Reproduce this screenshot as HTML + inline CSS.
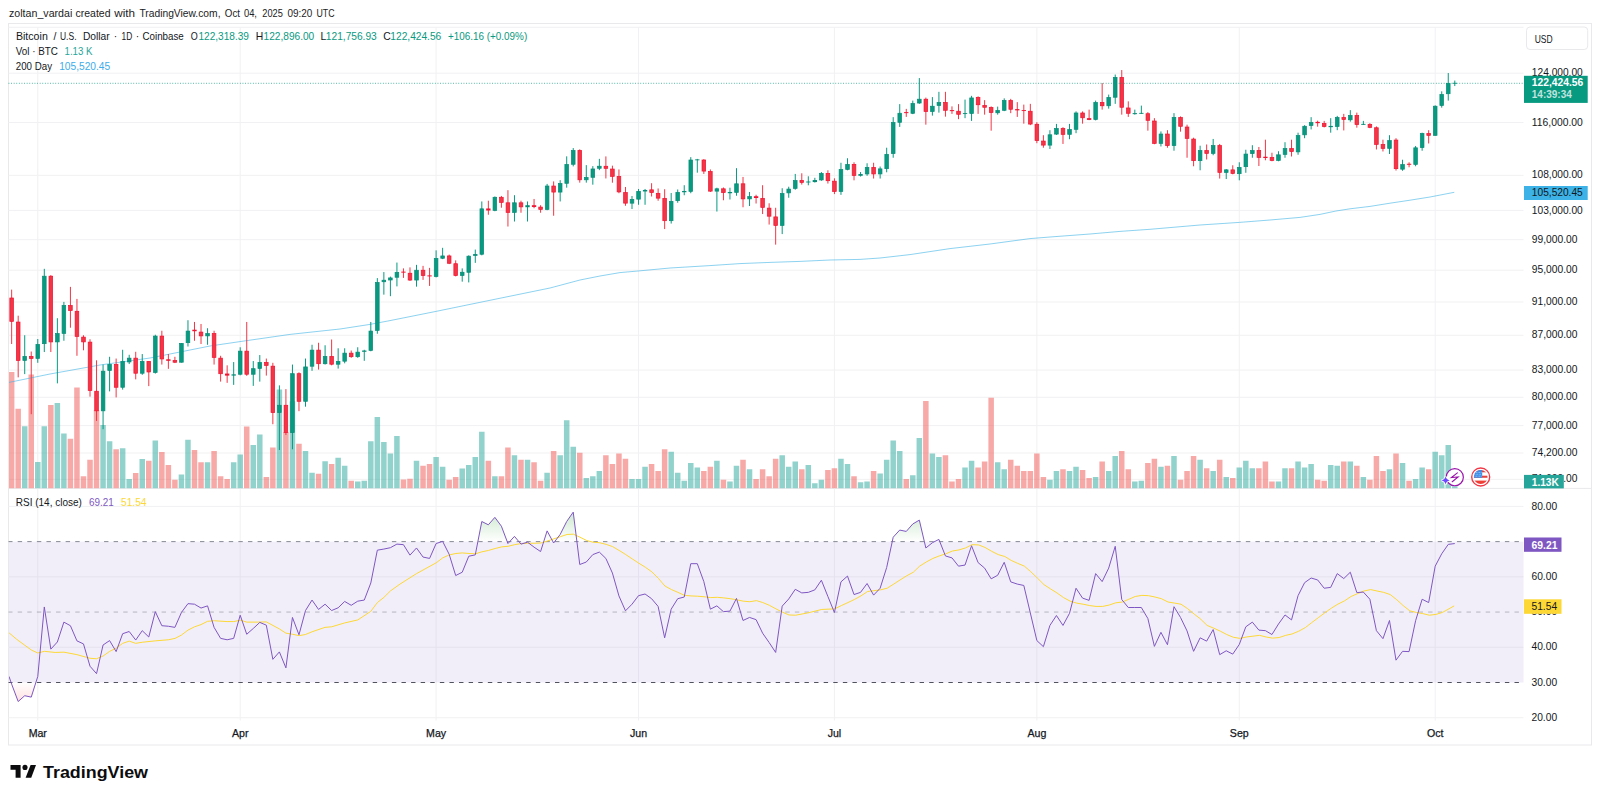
<!DOCTYPE html>
<html><head><meta charset="utf-8"><title>BTCUSD chart</title><style>html,body{margin:0;padding:0;background:#fff}svg{display:block}</style></head><body>
<svg width="1600" height="798" viewBox="0 0 1600 798" font-family="'Liberation Sans', Arial, sans-serif" font-size="10.4">
<rect width="1600" height="798" fill="#fff"/>
<rect x="8.5" y="23.5" width="1583.0" height="721.5" fill="none" stroke="#e9e9ec" stroke-width="1"/>
<line x1="8.5" y1="27.3" x2="1523.5" y2="27.3" stroke="#f1f1f3"/>
<line x1="8.5" y1="488.4" x2="1591.5" y2="488.4" stroke="#e9e9ec"/>
<line x1="37.77" y1="27.3" x2="37.77" y2="720.5" stroke="#f1f1f3"/>
<line x1="240.2" y1="27.3" x2="240.2" y2="720.5" stroke="#f1f1f3"/>
<line x1="436.1" y1="27.3" x2="436.1" y2="720.5" stroke="#f1f1f3"/>
<line x1="638.53" y1="27.3" x2="638.53" y2="720.5" stroke="#f1f1f3"/>
<line x1="834.43" y1="27.3" x2="834.43" y2="720.5" stroke="#f1f1f3"/>
<line x1="1036.86" y1="27.3" x2="1036.86" y2="720.5" stroke="#f1f1f3"/>
<line x1="1239.29" y1="27.3" x2="1239.29" y2="720.5" stroke="#f1f1f3"/>
<line x1="1435.19" y1="27.3" x2="1435.19" y2="720.5" stroke="#f1f1f3"/>
<line x1="8.5" y1="73.18" x2="1523.5" y2="73.18" stroke="#f1f1f3"/>
<line x1="8.5" y1="122.5" x2="1523.5" y2="122.5" stroke="#f1f1f3"/>
<line x1="8.5" y1="175.35" x2="1523.5" y2="175.35" stroke="#f1f1f3"/>
<line x1="8.5" y1="210.41" x2="1523.5" y2="210.41" stroke="#f1f1f3"/>
<line x1="8.5" y1="239.7" x2="1523.5" y2="239.7" stroke="#f1f1f3"/>
<line x1="8.5" y1="270.21" x2="1523.5" y2="270.21" stroke="#f1f1f3"/>
<line x1="8.5" y1="302.02" x2="1523.5" y2="302.02" stroke="#f1f1f3"/>
<line x1="8.5" y1="335.27" x2="1523.5" y2="335.27" stroke="#f1f1f3"/>
<line x1="8.5" y1="370.08" x2="1523.5" y2="370.08" stroke="#f1f1f3"/>
<line x1="8.5" y1="397.31" x2="1523.5" y2="397.31" stroke="#f1f1f3"/>
<line x1="8.5" y1="425.58" x2="1523.5" y2="425.58" stroke="#f1f1f3"/>
<line x1="8.5" y1="452.97" x2="1523.5" y2="452.97" stroke="#f1f1f3"/>
<line x1="8.5" y1="479.35" x2="1523.5" y2="479.35" stroke="#f1f1f3"/>
<line x1="8.5" y1="506.4" x2="1523.5" y2="506.4" stroke="#f1f1f3"/>
<line x1="8.5" y1="576.84" x2="1523.5" y2="576.84" stroke="#f1f1f3"/>
<line x1="8.5" y1="647.28" x2="1523.5" y2="647.28" stroke="#f1f1f3"/>
<line x1="8.5" y1="717.72" x2="1523.5" y2="717.72" stroke="#f1f1f3"/>
<clipPath id="cp"><rect x="9.0" y="27.3" width="1514.5" height="461.09999999999997"/></clipPath>
<clipPath id="cr"><rect x="9.0" y="488.4" width="1514.5" height="231.60000000000002"/></clipPath>
<g clip-path="url(#cp)">
<rect x="8.9" y="372" width="5.5" height="116.4" fill="#ef5350" fill-opacity="0.5"/>
<rect x="15.43" y="408.75" width="5.5" height="79.65" fill="#ef5350" fill-opacity="0.5"/>
<rect x="21.96" y="426.25" width="5.5" height="62.15" fill="#26a69a" fill-opacity="0.5"/>
<rect x="28.49" y="374.5" width="5.5" height="113.9" fill="#ef5350" fill-opacity="0.5"/>
<rect x="35.02" y="462" width="5.5" height="26.4" fill="#26a69a" fill-opacity="0.5"/>
<rect x="41.55" y="426.25" width="5.5" height="62.15" fill="#26a69a" fill-opacity="0.5"/>
<rect x="48.08" y="405" width="5.5" height="83.4" fill="#ef5350" fill-opacity="0.5"/>
<rect x="54.61" y="403" width="5.5" height="85.4" fill="#26a69a" fill-opacity="0.5"/>
<rect x="61.14" y="433.5" width="5.5" height="54.9" fill="#26a69a" fill-opacity="0.5"/>
<rect x="67.67" y="438.75" width="5.5" height="49.65" fill="#ef5350" fill-opacity="0.5"/>
<rect x="74.2" y="387.5" width="5.5" height="100.9" fill="#ef5350" fill-opacity="0.5"/>
<rect x="80.73" y="476.25" width="5.5" height="12.15" fill="#ef5350" fill-opacity="0.5"/>
<rect x="87.26" y="459.75" width="5.5" height="28.65" fill="#ef5350" fill-opacity="0.5"/>
<rect x="93.79" y="410" width="5.5" height="78.4" fill="#ef5350" fill-opacity="0.5"/>
<rect x="100.32" y="425" width="5.5" height="63.4" fill="#26a69a" fill-opacity="0.5"/>
<rect x="106.85" y="441.25" width="5.5" height="47.15" fill="#26a69a" fill-opacity="0.5"/>
<rect x="113.38" y="449.25" width="5.5" height="39.15" fill="#ef5350" fill-opacity="0.5"/>
<rect x="119.91" y="448.25" width="5.5" height="40.15" fill="#26a69a" fill-opacity="0.5"/>
<rect x="126.44" y="479" width="5.5" height="9.4" fill="#26a69a" fill-opacity="0.5"/>
<rect x="132.97" y="473" width="5.5" height="15.4" fill="#ef5350" fill-opacity="0.5"/>
<rect x="139.5" y="459" width="5.5" height="29.4" fill="#26a69a" fill-opacity="0.5"/>
<rect x="146.03" y="460.75" width="5.5" height="27.65" fill="#ef5350" fill-opacity="0.5"/>
<rect x="152.56" y="440.5" width="5.5" height="47.9" fill="#26a69a" fill-opacity="0.5"/>
<rect x="159.09" y="452" width="5.5" height="36.4" fill="#ef5350" fill-opacity="0.5"/>
<rect x="165.62" y="465" width="5.5" height="23.4" fill="#ef5350" fill-opacity="0.5"/>
<rect x="172.15" y="479.75" width="5.5" height="8.65" fill="#ef5350" fill-opacity="0.5"/>
<rect x="178.68" y="474.5" width="5.5" height="13.9" fill="#26a69a" fill-opacity="0.5"/>
<rect x="185.21" y="439.75" width="5.5" height="48.65" fill="#26a69a" fill-opacity="0.5"/>
<rect x="191.74" y="450" width="5.5" height="38.4" fill="#ef5350" fill-opacity="0.5"/>
<rect x="198.27" y="462.25" width="5.5" height="26.15" fill="#ef5350" fill-opacity="0.5"/>
<rect x="204.8" y="462.25" width="5.5" height="26.15" fill="#26a69a" fill-opacity="0.5"/>
<rect x="211.33" y="451" width="5.5" height="37.4" fill="#ef5350" fill-opacity="0.5"/>
<rect x="217.86" y="476.25" width="5.5" height="12.15" fill="#ef5350" fill-opacity="0.5"/>
<rect x="224.39" y="479" width="5.5" height="9.4" fill="#ef5350" fill-opacity="0.5"/>
<rect x="230.92" y="462.25" width="5.5" height="26.15" fill="#26a69a" fill-opacity="0.5"/>
<rect x="237.45" y="454.5" width="5.5" height="33.9" fill="#26a69a" fill-opacity="0.5"/>
<rect x="243.98" y="426.5" width="5.5" height="61.9" fill="#ef5350" fill-opacity="0.5"/>
<rect x="250.51" y="445" width="5.5" height="43.4" fill="#26a69a" fill-opacity="0.5"/>
<rect x="257.04" y="434.5" width="5.5" height="53.9" fill="#26a69a" fill-opacity="0.5"/>
<rect x="263.57" y="477" width="5.5" height="11.4" fill="#ef5350" fill-opacity="0.5"/>
<rect x="270.1" y="447.5" width="5.5" height="40.9" fill="#ef5350" fill-opacity="0.5"/>
<rect x="276.63" y="389.5" width="5.5" height="98.9" fill="#26a69a" fill-opacity="0.5"/>
<rect x="283.16" y="432" width="5.5" height="56.4" fill="#ef5350" fill-opacity="0.5"/>
<rect x="289.69" y="401.25" width="5.5" height="87.15" fill="#26a69a" fill-opacity="0.5"/>
<rect x="296.22" y="443.75" width="5.5" height="44.65" fill="#ef5350" fill-opacity="0.5"/>
<rect x="302.75" y="451" width="5.5" height="37.4" fill="#26a69a" fill-opacity="0.5"/>
<rect x="309.28" y="472.75" width="5.5" height="15.65" fill="#26a69a" fill-opacity="0.5"/>
<rect x="315.81" y="473.75" width="5.5" height="14.65" fill="#ef5350" fill-opacity="0.5"/>
<rect x="322.34" y="461.25" width="5.5" height="27.15" fill="#26a69a" fill-opacity="0.5"/>
<rect x="328.87" y="464" width="5.5" height="24.4" fill="#ef5350" fill-opacity="0.5"/>
<rect x="335.4" y="457.75" width="5.5" height="30.65" fill="#26a69a" fill-opacity="0.5"/>
<rect x="341.93" y="465.75" width="5.5" height="22.65" fill="#26a69a" fill-opacity="0.5"/>
<rect x="348.46" y="480.75" width="5.5" height="7.65" fill="#ef5350" fill-opacity="0.5"/>
<rect x="354.99" y="481.5" width="5.5" height="6.9" fill="#26a69a" fill-opacity="0.5"/>
<rect x="361.52" y="480.75" width="5.5" height="7.65" fill="#26a69a" fill-opacity="0.5"/>
<rect x="368.05" y="441.25" width="5.5" height="47.15" fill="#26a69a" fill-opacity="0.5"/>
<rect x="374.58" y="417" width="5.5" height="71.4" fill="#26a69a" fill-opacity="0.5"/>
<rect x="381.11" y="442" width="5.5" height="46.4" fill="#26a69a" fill-opacity="0.5"/>
<rect x="387.64" y="453.5" width="5.5" height="34.9" fill="#26a69a" fill-opacity="0.5"/>
<rect x="394.17" y="436" width="5.5" height="52.4" fill="#26a69a" fill-opacity="0.5"/>
<rect x="400.7" y="479.5" width="5.5" height="8.9" fill="#ef5350" fill-opacity="0.5"/>
<rect x="407.23" y="478.75" width="5.5" height="9.65" fill="#ef5350" fill-opacity="0.5"/>
<rect x="413.76" y="460.75" width="5.5" height="27.65" fill="#26a69a" fill-opacity="0.5"/>
<rect x="420.29" y="465.75" width="5.5" height="22.65" fill="#ef5350" fill-opacity="0.5"/>
<rect x="426.82" y="464" width="5.5" height="24.4" fill="#ef5350" fill-opacity="0.5"/>
<rect x="433.35" y="457" width="5.5" height="31.4" fill="#26a69a" fill-opacity="0.5"/>
<rect x="439.88" y="466.75" width="5.5" height="21.65" fill="#26a69a" fill-opacity="0.5"/>
<rect x="446.41" y="479.75" width="5.5" height="8.65" fill="#ef5350" fill-opacity="0.5"/>
<rect x="452.94" y="477" width="5.5" height="11.4" fill="#ef5350" fill-opacity="0.5"/>
<rect x="459.47" y="468.5" width="5.5" height="19.9" fill="#26a69a" fill-opacity="0.5"/>
<rect x="466" y="465" width="5.5" height="23.4" fill="#26a69a" fill-opacity="0.5"/>
<rect x="472.53" y="457" width="5.5" height="31.4" fill="#26a69a" fill-opacity="0.5"/>
<rect x="479.06" y="431.75" width="5.5" height="56.65" fill="#26a69a" fill-opacity="0.5"/>
<rect x="485.59" y="460.75" width="5.5" height="27.65" fill="#ef5350" fill-opacity="0.5"/>
<rect x="492.12" y="476.25" width="5.5" height="12.15" fill="#26a69a" fill-opacity="0.5"/>
<rect x="498.65" y="476.25" width="5.5" height="12.15" fill="#ef5350" fill-opacity="0.5"/>
<rect x="505.18" y="447.5" width="5.5" height="40.9" fill="#ef5350" fill-opacity="0.5"/>
<rect x="511.71" y="455.25" width="5.5" height="33.15" fill="#26a69a" fill-opacity="0.5"/>
<rect x="518.24" y="459.75" width="5.5" height="28.65" fill="#ef5350" fill-opacity="0.5"/>
<rect x="524.77" y="459.75" width="5.5" height="28.65" fill="#26a69a" fill-opacity="0.5"/>
<rect x="531.3" y="462.25" width="5.5" height="26.15" fill="#ef5350" fill-opacity="0.5"/>
<rect x="537.83" y="480.75" width="5.5" height="7.65" fill="#ef5350" fill-opacity="0.5"/>
<rect x="544.36" y="472.75" width="5.5" height="15.65" fill="#26a69a" fill-opacity="0.5"/>
<rect x="550.89" y="451" width="5.5" height="37.4" fill="#ef5350" fill-opacity="0.5"/>
<rect x="557.42" y="455.25" width="5.5" height="33.15" fill="#26a69a" fill-opacity="0.5"/>
<rect x="563.95" y="420.25" width="5.5" height="68.15" fill="#26a69a" fill-opacity="0.5"/>
<rect x="570.48" y="446.75" width="5.5" height="41.65" fill="#26a69a" fill-opacity="0.5"/>
<rect x="577.01" y="452.75" width="5.5" height="35.65" fill="#ef5350" fill-opacity="0.5"/>
<rect x="583.54" y="478" width="5.5" height="10.4" fill="#26a69a" fill-opacity="0.5"/>
<rect x="590.07" y="476.25" width="5.5" height="12.15" fill="#26a69a" fill-opacity="0.5"/>
<rect x="596.6" y="471" width="5.5" height="17.4" fill="#26a69a" fill-opacity="0.5"/>
<rect x="603.13" y="455.25" width="5.5" height="33.15" fill="#ef5350" fill-opacity="0.5"/>
<rect x="609.66" y="464" width="5.5" height="24.4" fill="#ef5350" fill-opacity="0.5"/>
<rect x="616.19" y="453.5" width="5.5" height="34.9" fill="#ef5350" fill-opacity="0.5"/>
<rect x="622.72" y="458.75" width="5.5" height="29.65" fill="#ef5350" fill-opacity="0.5"/>
<rect x="629.25" y="479" width="5.5" height="9.4" fill="#26a69a" fill-opacity="0.5"/>
<rect x="635.78" y="479" width="5.5" height="9.4" fill="#26a69a" fill-opacity="0.5"/>
<rect x="642.31" y="466.75" width="5.5" height="21.65" fill="#26a69a" fill-opacity="0.5"/>
<rect x="648.84" y="464" width="5.5" height="24.4" fill="#ef5350" fill-opacity="0.5"/>
<rect x="655.37" y="471" width="5.5" height="17.4" fill="#ef5350" fill-opacity="0.5"/>
<rect x="661.9" y="449.25" width="5.5" height="39.15" fill="#ef5350" fill-opacity="0.5"/>
<rect x="668.43" y="451.75" width="5.5" height="36.65" fill="#26a69a" fill-opacity="0.5"/>
<rect x="674.96" y="472.75" width="5.5" height="15.65" fill="#26a69a" fill-opacity="0.5"/>
<rect x="681.49" y="480.75" width="5.5" height="7.65" fill="#26a69a" fill-opacity="0.5"/>
<rect x="688.02" y="463" width="5.5" height="25.4" fill="#26a69a" fill-opacity="0.5"/>
<rect x="694.55" y="467.5" width="5.5" height="20.9" fill="#26a69a" fill-opacity="0.5"/>
<rect x="701.08" y="471" width="5.5" height="17.4" fill="#ef5350" fill-opacity="0.5"/>
<rect x="707.61" y="466.75" width="5.5" height="21.65" fill="#ef5350" fill-opacity="0.5"/>
<rect x="714.14" y="460.75" width="5.5" height="27.65" fill="#26a69a" fill-opacity="0.5"/>
<rect x="720.67" y="479.75" width="5.5" height="8.65" fill="#ef5350" fill-opacity="0.5"/>
<rect x="727.2" y="481.5" width="5.5" height="6.9" fill="#26a69a" fill-opacity="0.5"/>
<rect x="733.73" y="465.75" width="5.5" height="22.65" fill="#26a69a" fill-opacity="0.5"/>
<rect x="740.26" y="459.75" width="5.5" height="28.65" fill="#ef5350" fill-opacity="0.5"/>
<rect x="746.79" y="469.25" width="5.5" height="19.15" fill="#26a69a" fill-opacity="0.5"/>
<rect x="753.32" y="479" width="5.5" height="9.4" fill="#ef5350" fill-opacity="0.5"/>
<rect x="759.85" y="469.25" width="5.5" height="19.15" fill="#ef5350" fill-opacity="0.5"/>
<rect x="766.38" y="476.25" width="5.5" height="12.15" fill="#ef5350" fill-opacity="0.5"/>
<rect x="772.91" y="458.75" width="5.5" height="29.65" fill="#ef5350" fill-opacity="0.5"/>
<rect x="779.44" y="455.25" width="5.5" height="33.15" fill="#26a69a" fill-opacity="0.5"/>
<rect x="785.97" y="466.75" width="5.5" height="21.65" fill="#26a69a" fill-opacity="0.5"/>
<rect x="792.5" y="461.5" width="5.5" height="26.9" fill="#26a69a" fill-opacity="0.5"/>
<rect x="799.03" y="469.25" width="5.5" height="19.15" fill="#ef5350" fill-opacity="0.5"/>
<rect x="805.56" y="465" width="5.5" height="23.4" fill="#26a69a" fill-opacity="0.5"/>
<rect x="812.09" y="483.25" width="5.5" height="5.15" fill="#26a69a" fill-opacity="0.5"/>
<rect x="818.62" y="479.75" width="5.5" height="8.65" fill="#26a69a" fill-opacity="0.5"/>
<rect x="825.15" y="470" width="5.5" height="18.4" fill="#ef5350" fill-opacity="0.5"/>
<rect x="831.68" y="468.25" width="5.5" height="20.15" fill="#ef5350" fill-opacity="0.5"/>
<rect x="838.21" y="458.75" width="5.5" height="29.65" fill="#26a69a" fill-opacity="0.5"/>
<rect x="844.74" y="464" width="5.5" height="24.4" fill="#26a69a" fill-opacity="0.5"/>
<rect x="851.27" y="476.25" width="5.5" height="12.15" fill="#ef5350" fill-opacity="0.5"/>
<rect x="857.8" y="482.25" width="5.5" height="6.15" fill="#26a69a" fill-opacity="0.5"/>
<rect x="864.33" y="481.5" width="5.5" height="6.9" fill="#26a69a" fill-opacity="0.5"/>
<rect x="870.86" y="471" width="5.5" height="17.4" fill="#ef5350" fill-opacity="0.5"/>
<rect x="877.39" y="473.5" width="5.5" height="14.9" fill="#26a69a" fill-opacity="0.5"/>
<rect x="883.92" y="459.75" width="5.5" height="28.65" fill="#26a69a" fill-opacity="0.5"/>
<rect x="890.45" y="440.5" width="5.5" height="47.9" fill="#26a69a" fill-opacity="0.5"/>
<rect x="896.98" y="451" width="5.5" height="37.4" fill="#26a69a" fill-opacity="0.5"/>
<rect x="903.51" y="479" width="5.5" height="9.4" fill="#ef5350" fill-opacity="0.5"/>
<rect x="910.04" y="475.25" width="5.5" height="13.15" fill="#26a69a" fill-opacity="0.5"/>
<rect x="916.57" y="438" width="5.5" height="50.4" fill="#26a69a" fill-opacity="0.5"/>
<rect x="923.1" y="401" width="5.5" height="87.4" fill="#ef5350" fill-opacity="0.5"/>
<rect x="929.63" y="453.5" width="5.5" height="34.9" fill="#26a69a" fill-opacity="0.5"/>
<rect x="936.16" y="457" width="5.5" height="31.4" fill="#26a69a" fill-opacity="0.5"/>
<rect x="942.69" y="455.25" width="5.5" height="33.15" fill="#ef5350" fill-opacity="0.5"/>
<rect x="949.22" y="481.5" width="5.5" height="6.9" fill="#ef5350" fill-opacity="0.5"/>
<rect x="955.75" y="479" width="5.5" height="9.4" fill="#ef5350" fill-opacity="0.5"/>
<rect x="962.28" y="467.5" width="5.5" height="20.9" fill="#26a69a" fill-opacity="0.5"/>
<rect x="968.81" y="460.75" width="5.5" height="27.65" fill="#26a69a" fill-opacity="0.5"/>
<rect x="975.34" y="467.5" width="5.5" height="20.9" fill="#ef5350" fill-opacity="0.5"/>
<rect x="981.87" y="461.5" width="5.5" height="26.9" fill="#ef5350" fill-opacity="0.5"/>
<rect x="988.4" y="397.75" width="5.5" height="90.65" fill="#ef5350" fill-opacity="0.5"/>
<rect x="994.93" y="462.25" width="5.5" height="26.15" fill="#26a69a" fill-opacity="0.5"/>
<rect x="1001.46" y="469.25" width="5.5" height="19.15" fill="#26a69a" fill-opacity="0.5"/>
<rect x="1007.99" y="459.75" width="5.5" height="28.65" fill="#ef5350" fill-opacity="0.5"/>
<rect x="1014.52" y="465.75" width="5.5" height="22.65" fill="#ef5350" fill-opacity="0.5"/>
<rect x="1021.05" y="471" width="5.5" height="17.4" fill="#ef5350" fill-opacity="0.5"/>
<rect x="1027.58" y="471" width="5.5" height="17.4" fill="#ef5350" fill-opacity="0.5"/>
<rect x="1034.11" y="453.5" width="5.5" height="34.9" fill="#ef5350" fill-opacity="0.5"/>
<rect x="1040.64" y="477" width="5.5" height="11.4" fill="#ef5350" fill-opacity="0.5"/>
<rect x="1047.17" y="479.75" width="5.5" height="8.65" fill="#26a69a" fill-opacity="0.5"/>
<rect x="1053.7" y="471" width="5.5" height="17.4" fill="#26a69a" fill-opacity="0.5"/>
<rect x="1060.23" y="469.25" width="5.5" height="19.15" fill="#ef5350" fill-opacity="0.5"/>
<rect x="1066.76" y="471" width="5.5" height="17.4" fill="#26a69a" fill-opacity="0.5"/>
<rect x="1073.29" y="466.75" width="5.5" height="21.65" fill="#26a69a" fill-opacity="0.5"/>
<rect x="1079.82" y="470" width="5.5" height="18.4" fill="#ef5350" fill-opacity="0.5"/>
<rect x="1086.35" y="478" width="5.5" height="10.4" fill="#ef5350" fill-opacity="0.5"/>
<rect x="1092.88" y="477" width="5.5" height="11.4" fill="#26a69a" fill-opacity="0.5"/>
<rect x="1099.41" y="461.5" width="5.5" height="26.9" fill="#ef5350" fill-opacity="0.5"/>
<rect x="1105.94" y="471" width="5.5" height="17.4" fill="#26a69a" fill-opacity="0.5"/>
<rect x="1112.47" y="456" width="5.5" height="32.4" fill="#26a69a" fill-opacity="0.5"/>
<rect x="1119" y="451" width="5.5" height="37.4" fill="#ef5350" fill-opacity="0.5"/>
<rect x="1125.53" y="469.25" width="5.5" height="19.15" fill="#ef5350" fill-opacity="0.5"/>
<rect x="1132.06" y="481.5" width="5.5" height="6.9" fill="#26a69a" fill-opacity="0.5"/>
<rect x="1138.59" y="480.75" width="5.5" height="7.65" fill="#26a69a" fill-opacity="0.5"/>
<rect x="1145.12" y="463" width="5.5" height="25.4" fill="#ef5350" fill-opacity="0.5"/>
<rect x="1151.65" y="458.75" width="5.5" height="29.65" fill="#ef5350" fill-opacity="0.5"/>
<rect x="1158.18" y="466.75" width="5.5" height="21.65" fill="#26a69a" fill-opacity="0.5"/>
<rect x="1164.71" y="465.75" width="5.5" height="22.65" fill="#ef5350" fill-opacity="0.5"/>
<rect x="1171.24" y="456" width="5.5" height="32.4" fill="#26a69a" fill-opacity="0.5"/>
<rect x="1177.77" y="479.75" width="5.5" height="8.65" fill="#ef5350" fill-opacity="0.5"/>
<rect x="1184.3" y="471" width="5.5" height="17.4" fill="#ef5350" fill-opacity="0.5"/>
<rect x="1190.83" y="456" width="5.5" height="32.4" fill="#ef5350" fill-opacity="0.5"/>
<rect x="1197.36" y="459.75" width="5.5" height="28.65" fill="#26a69a" fill-opacity="0.5"/>
<rect x="1203.89" y="468.25" width="5.5" height="20.15" fill="#ef5350" fill-opacity="0.5"/>
<rect x="1210.42" y="471" width="5.5" height="17.4" fill="#26a69a" fill-opacity="0.5"/>
<rect x="1216.95" y="459.75" width="5.5" height="28.65" fill="#ef5350" fill-opacity="0.5"/>
<rect x="1223.48" y="477" width="5.5" height="11.4" fill="#26a69a" fill-opacity="0.5"/>
<rect x="1230.01" y="478" width="5.5" height="10.4" fill="#ef5350" fill-opacity="0.5"/>
<rect x="1236.54" y="467.5" width="5.5" height="20.9" fill="#26a69a" fill-opacity="0.5"/>
<rect x="1243.07" y="460.75" width="5.5" height="27.65" fill="#26a69a" fill-opacity="0.5"/>
<rect x="1249.6" y="468.25" width="5.5" height="20.15" fill="#26a69a" fill-opacity="0.5"/>
<rect x="1256.13" y="468.25" width="5.5" height="20.15" fill="#ef5350" fill-opacity="0.5"/>
<rect x="1262.66" y="461.5" width="5.5" height="26.9" fill="#ef5350" fill-opacity="0.5"/>
<rect x="1269.19" y="481.5" width="5.5" height="6.9" fill="#ef5350" fill-opacity="0.5"/>
<rect x="1275.72" y="481.5" width="5.5" height="6.9" fill="#26a69a" fill-opacity="0.5"/>
<rect x="1282.25" y="468.25" width="5.5" height="20.15" fill="#26a69a" fill-opacity="0.5"/>
<rect x="1288.78" y="468.25" width="5.5" height="20.15" fill="#ef5350" fill-opacity="0.5"/>
<rect x="1295.31" y="461.5" width="5.5" height="26.9" fill="#26a69a" fill-opacity="0.5"/>
<rect x="1301.84" y="467.5" width="5.5" height="20.9" fill="#26a69a" fill-opacity="0.5"/>
<rect x="1308.37" y="464" width="5.5" height="24.4" fill="#26a69a" fill-opacity="0.5"/>
<rect x="1314.9" y="479.75" width="5.5" height="8.65" fill="#ef5350" fill-opacity="0.5"/>
<rect x="1321.43" y="480.75" width="5.5" height="7.65" fill="#ef5350" fill-opacity="0.5"/>
<rect x="1327.96" y="465" width="5.5" height="23.4" fill="#26a69a" fill-opacity="0.5"/>
<rect x="1334.49" y="465.75" width="5.5" height="22.65" fill="#26a69a" fill-opacity="0.5"/>
<rect x="1341.02" y="461.5" width="5.5" height="26.9" fill="#ef5350" fill-opacity="0.5"/>
<rect x="1347.55" y="461.5" width="5.5" height="26.9" fill="#26a69a" fill-opacity="0.5"/>
<rect x="1354.08" y="465.75" width="5.5" height="22.65" fill="#ef5350" fill-opacity="0.5"/>
<rect x="1360.61" y="477" width="5.5" height="11.4" fill="#26a69a" fill-opacity="0.5"/>
<rect x="1367.14" y="479.75" width="5.5" height="8.65" fill="#ef5350" fill-opacity="0.5"/>
<rect x="1373.67" y="456" width="5.5" height="32.4" fill="#ef5350" fill-opacity="0.5"/>
<rect x="1380.2" y="471" width="5.5" height="17.4" fill="#ef5350" fill-opacity="0.5"/>
<rect x="1386.73" y="469.25" width="5.5" height="19.15" fill="#26a69a" fill-opacity="0.5"/>
<rect x="1393.26" y="453.5" width="5.5" height="34.9" fill="#ef5350" fill-opacity="0.5"/>
<rect x="1399.79" y="463" width="5.5" height="25.4" fill="#26a69a" fill-opacity="0.5"/>
<rect x="1406.32" y="480.75" width="5.5" height="7.65" fill="#ef5350" fill-opacity="0.5"/>
<rect x="1412.85" y="479" width="5.5" height="9.4" fill="#26a69a" fill-opacity="0.5"/>
<rect x="1419.38" y="467.5" width="5.5" height="20.9" fill="#26a69a" fill-opacity="0.5"/>
<rect x="1425.91" y="469.25" width="5.5" height="19.15" fill="#ef5350" fill-opacity="0.5"/>
<rect x="1432.44" y="451.75" width="5.5" height="36.65" fill="#26a69a" fill-opacity="0.5"/>
<rect x="1438.97" y="455.25" width="5.5" height="33.15" fill="#26a69a" fill-opacity="0.5"/>
<rect x="1445.5" y="445" width="5.5" height="43.4" fill="#26a69a" fill-opacity="0.5"/>
<rect x="1452.03" y="486.25" width="5.5" height="2.15" fill="#26a69a" fill-opacity="0.5"/>
<polyline fill="none" stroke="#3cb2e6" stroke-width="0.95" stroke-opacity="0.62" stroke-linejoin="round" points="9,382.4 50,374 100,365 150,358 180,352 210,346 240,341.6 290,334.4 340,329 370,324.4 390,320.6 436,311.4 470,304.4 510,296.2 550,288 580,280 600,276 620,272.6 638,271 670,268 710,265.6 740,263.6 770,262.4 800,261.4 830,260 860,259.4 880,258 910,254.6 950,248.6 990,244 1030,238.6 1050,237 1090,234 1120,231.4 1150,229.3 1200,225 1239.4,222.4 1270,220 1300,217.4 1320,214.4 1336,211 1350,208.8 1370,206.4 1390,203.2 1410,200.2 1430,197 1454.3,192.3"/>
<rect x="11.15" y="289.62" width="1" height="54.39" fill="#f23645"/>
<rect x="9.83" y="297.99" width="3.65" height="23.36" fill="#f23645" stroke="#ef1231" stroke-width="0.7"/>
<rect x="17.68" y="315.69" width="1" height="61.65" fill="#f23645"/>
<rect x="16.36" y="322.05" width="3.65" height="38.4" fill="#f23645" stroke="#ef1231" stroke-width="0.7"/>
<rect x="24.21" y="335.24" width="1" height="38.85" fill="#089981"/>
<rect x="22.89" y="356.39" width="3.65" height="4.06" fill="#089981" stroke="#068c76" stroke-width="0.7"/>
<rect x="30.74" y="351.53" width="1" height="62.66" fill="#f23645"/>
<rect x="29.42" y="356.39" width="3.65" height="2.06" fill="#f23645" stroke="#ef1231" stroke-width="0.7"/>
<rect x="37.27" y="339" width="1" height="23.81" fill="#089981"/>
<rect x="35.95" y="344.36" width="3.65" height="14.09" fill="#089981" stroke="#068c76" stroke-width="0.7"/>
<rect x="43.8" y="268.82" width="1" height="83.21" fill="#089981"/>
<rect x="42.48" y="276.19" width="3.65" height="67.47" fill="#089981" stroke="#068c76" stroke-width="0.7"/>
<rect x="50.33" y="275.09" width="1" height="76.94" fill="#f23645"/>
<rect x="49.01" y="276.19" width="3.65" height="65.72" fill="#f23645" stroke="#ef1231" stroke-width="0.7"/>
<rect x="56.86" y="318.2" width="1" height="65.16" fill="#089981"/>
<rect x="55.54" y="333.58" width="3.65" height="8.32" fill="#089981" stroke="#068c76" stroke-width="0.7"/>
<rect x="63.39" y="301.9" width="1" height="38.85" fill="#089981"/>
<rect x="62.07" y="305.51" width="3.65" height="27.87" fill="#089981" stroke="#068c76" stroke-width="0.7"/>
<rect x="69.92" y="286.87" width="1" height="40.85" fill="#f23645"/>
<rect x="68.59" y="305.51" width="3.65" height="5.06" fill="#f23645" stroke="#ef1231" stroke-width="0.7"/>
<rect x="76.45" y="298.9" width="1" height="56.89" fill="#f23645"/>
<rect x="75.12" y="311.28" width="3.65" height="25.11" fill="#f23645" stroke="#ef1231" stroke-width="0.7"/>
<rect x="82.98" y="335.24" width="1" height="15.04" fill="#f23645"/>
<rect x="81.66" y="337.09" width="3.65" height="4.81" fill="#f23645" stroke="#ef1231" stroke-width="0.7"/>
<rect x="89.51" y="339.25" width="1" height="57.39" fill="#f23645"/>
<rect x="88.19" y="342.1" width="3.65" height="48.42" fill="#f23645" stroke="#ef1231" stroke-width="0.7"/>
<rect x="96.04" y="360.3" width="1" height="60.65" fill="#f23645"/>
<rect x="94.72" y="391.23" width="3.65" height="19.6" fill="#f23645" stroke="#ef1231" stroke-width="0.7"/>
<rect x="102.57" y="364.56" width="1" height="64.66" fill="#089981"/>
<rect x="101.25" y="371.18" width="3.65" height="39.65" fill="#089981" stroke="#068c76" stroke-width="0.7"/>
<rect x="109.1" y="356.79" width="1" height="34.59" fill="#089981"/>
<rect x="107.78" y="364.41" width="3.65" height="6.07" fill="#089981" stroke="#068c76" stroke-width="0.7"/>
<rect x="115.63" y="358.55" width="1" height="38.85" fill="#f23645"/>
<rect x="114.31" y="364.41" width="3.65" height="22.86" fill="#f23645" stroke="#ef1231" stroke-width="0.7"/>
<rect x="122.16" y="349.77" width="1" height="39.85" fill="#089981"/>
<rect x="120.84" y="361.4" width="3.65" height="25.87" fill="#089981" stroke="#068c76" stroke-width="0.7"/>
<rect x="128.69" y="354.79" width="1" height="9.27" fill="#089981"/>
<rect x="127.36" y="358.14" width="3.65" height="3.81" fill="#089981" stroke="#068c76" stroke-width="0.7"/>
<rect x="135.22" y="351.78" width="1" height="27.57" fill="#f23645"/>
<rect x="133.89" y="358.14" width="3.65" height="15.09" fill="#f23645" stroke="#ef1231" stroke-width="0.7"/>
<rect x="141.75" y="354.04" width="1" height="20.8" fill="#089981"/>
<rect x="140.42" y="361.4" width="3.65" height="11.83" fill="#089981" stroke="#068c76" stroke-width="0.7"/>
<rect x="148.28" y="361.05" width="1" height="25.06" fill="#f23645"/>
<rect x="146.95" y="361.4" width="3.65" height="10.58" fill="#f23645" stroke="#ef1231" stroke-width="0.7"/>
<rect x="154.81" y="334.74" width="1" height="38.85" fill="#089981"/>
<rect x="153.48" y="336.09" width="3.65" height="36.39" fill="#089981" stroke="#068c76" stroke-width="0.7"/>
<rect x="161.34" y="330.73" width="1" height="33.83" fill="#f23645"/>
<rect x="160.01" y="336.09" width="3.65" height="22.86" fill="#f23645" stroke="#ef1231" stroke-width="0.7"/>
<rect x="167.87" y="354.04" width="1" height="14.79" fill="#f23645"/>
<rect x="166.19" y="359.3" width="4.35" height="1.5" fill="#ef1231"/>
<rect x="174.4" y="356.79" width="1" height="6.27" fill="#f23645"/>
<rect x="173.07" y="360.65" width="3.65" height="1.56" fill="#f23645" stroke="#ef1231" stroke-width="0.7"/>
<rect x="180.93" y="343.01" width="1" height="19.55" fill="#089981"/>
<rect x="179.6" y="343.36" width="3.65" height="18.85" fill="#089981" stroke="#068c76" stroke-width="0.7"/>
<rect x="187.46" y="320.2" width="1" height="26.32" fill="#089981"/>
<rect x="186.13" y="331.08" width="3.65" height="11.58" fill="#089981" stroke="#068c76" stroke-width="0.7"/>
<rect x="193.99" y="321.95" width="1" height="18.8" fill="#f23645"/>
<rect x="192.31" y="329.72" width="4.35" height="1.5" fill="#ef1231"/>
<rect x="200.52" y="323.96" width="1" height="20.05" fill="#f23645"/>
<rect x="199.19" y="332.08" width="3.65" height="3.81" fill="#f23645" stroke="#ef1231" stroke-width="0.7"/>
<rect x="207.05" y="328.22" width="1" height="16.54" fill="#089981"/>
<rect x="205.72" y="333.58" width="3.65" height="2.31" fill="#089981" stroke="#068c76" stroke-width="0.7"/>
<rect x="213.58" y="330.73" width="1" height="33.83" fill="#f23645"/>
<rect x="212.25" y="333.58" width="3.65" height="23.86" fill="#f23645" stroke="#ef1231" stroke-width="0.7"/>
<rect x="220.11" y="355.79" width="1" height="25.81" fill="#f23645"/>
<rect x="218.78" y="358.14" width="3.65" height="15.59" fill="#f23645" stroke="#ef1231" stroke-width="0.7"/>
<rect x="226.64" y="365.31" width="1" height="17.54" fill="#f23645"/>
<rect x="224.97" y="373.58" width="4.35" height="2.01" fill="#ef1231"/>
<rect x="233.17" y="362.06" width="1" height="22.81" fill="#089981"/>
<rect x="231.5" y="374.34" width="4.35" height="1.25" fill="#068c76"/>
<rect x="239.7" y="347.27" width="1" height="28.07" fill="#089981"/>
<rect x="238.38" y="351.13" width="3.65" height="23.11" fill="#089981" stroke="#068c76" stroke-width="0.7"/>
<rect x="246.23" y="321.95" width="1" height="53.88" fill="#f23645"/>
<rect x="244.91" y="351.13" width="3.65" height="23.11" fill="#f23645" stroke="#ef1231" stroke-width="0.7"/>
<rect x="252.76" y="361.05" width="1" height="24.81" fill="#089981"/>
<rect x="251.44" y="368.67" width="3.65" height="5.57" fill="#089981" stroke="#068c76" stroke-width="0.7"/>
<rect x="259.29" y="355.04" width="1" height="26.57" fill="#089981"/>
<rect x="257.97" y="362.41" width="3.65" height="6.07" fill="#089981" stroke="#068c76" stroke-width="0.7"/>
<rect x="265.82" y="358.55" width="1" height="17.04" fill="#f23645"/>
<rect x="264.5" y="362.41" width="3.65" height="3.06" fill="#f23645" stroke="#ef1231" stroke-width="0.7"/>
<rect x="272.35" y="362.81" width="1" height="61.4" fill="#f23645"/>
<rect x="271.02" y="366.16" width="3.65" height="46.42" fill="#f23645" stroke="#ef1231" stroke-width="0.7"/>
<rect x="278.88" y="385.36" width="1" height="64.66" fill="#089981"/>
<rect x="277.56" y="405.26" width="3.65" height="7.32" fill="#089981" stroke="#068c76" stroke-width="0.7"/>
<rect x="285.41" y="389.12" width="1" height="45.86" fill="#f23645"/>
<rect x="284.08" y="405.26" width="3.65" height="27.37" fill="#f23645" stroke="#ef1231" stroke-width="0.7"/>
<rect x="291.94" y="364.56" width="1" height="84.71" fill="#089981"/>
<rect x="290.62" y="373.68" width="3.65" height="58.95" fill="#089981" stroke="#068c76" stroke-width="0.7"/>
<rect x="298.47" y="372.33" width="1" height="38.85" fill="#f23645"/>
<rect x="297.14" y="373.68" width="3.65" height="27.62" fill="#f23645" stroke="#ef1231" stroke-width="0.7"/>
<rect x="305" y="358.55" width="1" height="48.12" fill="#089981"/>
<rect x="303.68" y="366.92" width="3.65" height="34.39" fill="#089981" stroke="#068c76" stroke-width="0.7"/>
<rect x="311.53" y="344.76" width="1" height="26.07" fill="#089981"/>
<rect x="310.2" y="350.12" width="3.65" height="16.09" fill="#089981" stroke="#068c76" stroke-width="0.7"/>
<rect x="318.06" y="342.76" width="1" height="26.82" fill="#f23645"/>
<rect x="316.74" y="350.12" width="3.65" height="13.59" fill="#f23645" stroke="#ef1231" stroke-width="0.7"/>
<rect x="324.59" y="345.26" width="1" height="19.3" fill="#089981"/>
<rect x="323.26" y="356.39" width="3.65" height="7.32" fill="#089981" stroke="#068c76" stroke-width="0.7"/>
<rect x="331.12" y="339.5" width="1" height="25.81" fill="#f23645"/>
<rect x="329.8" y="356.39" width="3.65" height="7.82" fill="#f23645" stroke="#ef1231" stroke-width="0.7"/>
<rect x="337.65" y="348.27" width="1" height="20.3" fill="#089981"/>
<rect x="336.32" y="361.4" width="3.65" height="2.81" fill="#089981" stroke="#068c76" stroke-width="0.7"/>
<rect x="344.18" y="348.27" width="1" height="15.04" fill="#089981"/>
<rect x="342.86" y="353.13" width="3.65" height="8.07" fill="#089981" stroke="#068c76" stroke-width="0.7"/>
<rect x="350.71" y="350.53" width="1" height="7.27" fill="#f23645"/>
<rect x="349.38" y="353.13" width="3.65" height="3.56" fill="#f23645" stroke="#ef1231" stroke-width="0.7"/>
<rect x="357.24" y="347.27" width="1" height="10.53" fill="#089981"/>
<rect x="355.92" y="352.13" width="3.65" height="4.56" fill="#089981" stroke="#068c76" stroke-width="0.7"/>
<rect x="363.77" y="349.77" width="1" height="11.03" fill="#089981"/>
<rect x="362.09" y="350.53" width="4.35" height="1.25" fill="#068c76"/>
<rect x="370.3" y="321.95" width="1" height="29.32" fill="#089981"/>
<rect x="368.98" y="331.08" width="3.65" height="19.35" fill="#089981" stroke="#068c76" stroke-width="0.7"/>
<rect x="376.83" y="278.1" width="1" height="55.64" fill="#089981"/>
<rect x="375.5" y="282.46" width="3.65" height="47.92" fill="#089981" stroke="#068c76" stroke-width="0.7"/>
<rect x="383.36" y="272.08" width="1" height="22.56" fill="#089981"/>
<rect x="382.04" y="280.2" width="3.65" height="1.56" fill="#089981" stroke="#068c76" stroke-width="0.7"/>
<rect x="389.89" y="276.59" width="1" height="19.55" fill="#089981"/>
<rect x="388.56" y="277.94" width="3.65" height="2.06" fill="#089981" stroke="#068c76" stroke-width="0.7"/>
<rect x="396.42" y="262.56" width="1" height="23.81" fill="#089981"/>
<rect x="395.1" y="272.43" width="3.65" height="4.81" fill="#089981" stroke="#068c76" stroke-width="0.7"/>
<rect x="402.95" y="268.37" width="1" height="9.52" fill="#f23645"/>
<rect x="401.27" y="271.63" width="4.35" height="1" fill="#ef1231"/>
<rect x="409.48" y="267.37" width="1" height="13.53" fill="#f23645"/>
<rect x="408.16" y="273.23" width="3.65" height="6.82" fill="#f23645" stroke="#ef1231" stroke-width="0.7"/>
<rect x="416.01" y="264.86" width="1" height="21.8" fill="#089981"/>
<rect x="414.69" y="270.22" width="3.65" height="9.83" fill="#089981" stroke="#068c76" stroke-width="0.7"/>
<rect x="422.54" y="265.86" width="1" height="14.04" fill="#f23645"/>
<rect x="421.22" y="270.22" width="3.65" height="5.32" fill="#f23645" stroke="#ef1231" stroke-width="0.7"/>
<rect x="429.07" y="267.87" width="1" height="18.05" fill="#f23645"/>
<rect x="427.39" y="275.39" width="4.35" height="1" fill="#ef1231"/>
<rect x="435.6" y="250.33" width="1" height="27.07" fill="#089981"/>
<rect x="434.27" y="258.45" width="3.65" height="18.1" fill="#089981" stroke="#068c76" stroke-width="0.7"/>
<rect x="442.13" y="247.82" width="1" height="11.28" fill="#089981"/>
<rect x="440.81" y="255.94" width="3.65" height="2.31" fill="#089981" stroke="#068c76" stroke-width="0.7"/>
<rect x="448.66" y="254.59" width="1" height="9.52" fill="#f23645"/>
<rect x="447.33" y="255.94" width="3.65" height="7.32" fill="#f23645" stroke="#ef1231" stroke-width="0.7"/>
<rect x="455.19" y="260.35" width="1" height="16.04" fill="#f23645"/>
<rect x="453.87" y="263.71" width="3.65" height="11.83" fill="#f23645" stroke="#ef1231" stroke-width="0.7"/>
<rect x="461.72" y="268.37" width="1" height="13.28" fill="#089981"/>
<rect x="460.39" y="272.23" width="3.65" height="3.31" fill="#089981" stroke="#068c76" stroke-width="0.7"/>
<rect x="468.25" y="255.34" width="1" height="27.07" fill="#089981"/>
<rect x="466.93" y="256.19" width="3.65" height="16.09" fill="#089981" stroke="#068c76" stroke-width="0.7"/>
<rect x="474.78" y="249.57" width="1" height="13.28" fill="#089981"/>
<rect x="473.1" y="254.09" width="4.35" height="1.75" fill="#068c76"/>
<rect x="481.31" y="201.45" width="1" height="53.88" fill="#089981"/>
<rect x="479.99" y="208.82" width="3.65" height="45.42" fill="#089981" stroke="#068c76" stroke-width="0.7"/>
<rect x="487.84" y="200.7" width="1" height="14.04" fill="#f23645"/>
<rect x="486.16" y="208.47" width="4.35" height="2.01" fill="#ef1231"/>
<rect x="494.37" y="196.44" width="1" height="14.79" fill="#089981"/>
<rect x="493.05" y="197.29" width="3.65" height="13.08" fill="#089981" stroke="#068c76" stroke-width="0.7"/>
<rect x="500.9" y="195.94" width="1" height="11.78" fill="#f23645"/>
<rect x="499.57" y="197.29" width="3.65" height="5.06" fill="#f23645" stroke="#ef1231" stroke-width="0.7"/>
<rect x="507.43" y="190.18" width="1" height="36.34" fill="#f23645"/>
<rect x="506.11" y="202.81" width="3.65" height="9.58" fill="#f23645" stroke="#ef1231" stroke-width="0.7"/>
<rect x="513.96" y="195.19" width="1" height="26.32" fill="#089981"/>
<rect x="512.64" y="202.81" width="3.65" height="9.58" fill="#089981" stroke="#068c76" stroke-width="0.7"/>
<rect x="520.49" y="200.7" width="1" height="12.03" fill="#f23645"/>
<rect x="519.17" y="202.81" width="3.65" height="4.06" fill="#f23645" stroke="#ef1231" stroke-width="0.7"/>
<rect x="527.02" y="201.45" width="1" height="20.05" fill="#089981"/>
<rect x="525.35" y="205.21" width="4.35" height="2.01" fill="#068c76"/>
<rect x="533.55" y="198.95" width="1" height="9.27" fill="#f23645"/>
<rect x="531.88" y="205.21" width="4.35" height="1.75" fill="#ef1231"/>
<rect x="540.08" y="205.21" width="1" height="7.52" fill="#f23645"/>
<rect x="538.76" y="207.07" width="3.65" height="2.31" fill="#f23645" stroke="#ef1231" stroke-width="0.7"/>
<rect x="546.61" y="183.91" width="1" height="26.32" fill="#089981"/>
<rect x="545.29" y="186.01" width="3.65" height="23.36" fill="#089981" stroke="#068c76" stroke-width="0.7"/>
<rect x="553.14" y="181.4" width="1" height="34.34" fill="#f23645"/>
<rect x="551.82" y="186.01" width="3.65" height="6.07" fill="#f23645" stroke="#ef1231" stroke-width="0.7"/>
<rect x="559.67" y="180.15" width="1" height="21.3" fill="#089981"/>
<rect x="558.35" y="183.51" width="3.65" height="8.57" fill="#089981" stroke="#068c76" stroke-width="0.7"/>
<rect x="566.2" y="156.34" width="1" height="31.33" fill="#089981"/>
<rect x="564.88" y="164.46" width="3.65" height="18.85" fill="#089981" stroke="#068c76" stroke-width="0.7"/>
<rect x="572.73" y="148.07" width="1" height="18.3" fill="#089981"/>
<rect x="571.41" y="150.43" width="3.65" height="13.84" fill="#089981" stroke="#068c76" stroke-width="0.7"/>
<rect x="579.26" y="149.32" width="1" height="33.33" fill="#f23645"/>
<rect x="577.94" y="150.43" width="3.65" height="29.38" fill="#f23645" stroke="#ef1231" stroke-width="0.7"/>
<rect x="585.79" y="165.11" width="1" height="17.54" fill="#089981"/>
<rect x="584.47" y="177.49" width="3.65" height="2.31" fill="#089981" stroke="#068c76" stroke-width="0.7"/>
<rect x="592.32" y="166.12" width="1" height="18.55" fill="#089981"/>
<rect x="591" y="168.97" width="3.65" height="8.32" fill="#089981" stroke="#068c76" stroke-width="0.7"/>
<rect x="598.85" y="158.85" width="1" height="11.28" fill="#089981"/>
<rect x="597.53" y="166.21" width="3.65" height="2.06" fill="#089981" stroke="#068c76" stroke-width="0.7"/>
<rect x="605.38" y="156.39" width="1" height="22.06" fill="#f23645"/>
<rect x="604.06" y="166.26" width="3.65" height="2.06" fill="#f23645" stroke="#ef1231" stroke-width="0.7"/>
<rect x="611.91" y="165.66" width="1" height="17.04" fill="#f23645"/>
<rect x="610.59" y="169.02" width="3.65" height="7.32" fill="#f23645" stroke="#ef1231" stroke-width="0.7"/>
<rect x="618.44" y="169.42" width="1" height="23.81" fill="#f23645"/>
<rect x="617.12" y="176.54" width="3.65" height="15.34" fill="#f23645" stroke="#ef1231" stroke-width="0.7"/>
<rect x="624.97" y="186.97" width="1" height="18.8" fill="#f23645"/>
<rect x="623.65" y="192.58" width="3.65" height="10.58" fill="#f23645" stroke="#ef1231" stroke-width="0.7"/>
<rect x="631.5" y="195.99" width="1" height="13.03" fill="#089981"/>
<rect x="630.18" y="199.35" width="3.65" height="3.81" fill="#089981" stroke="#068c76" stroke-width="0.7"/>
<rect x="638.03" y="188.97" width="1" height="15.79" fill="#089981"/>
<rect x="636.71" y="191.33" width="3.65" height="7.82" fill="#089981" stroke="#068c76" stroke-width="0.7"/>
<rect x="644.56" y="188.97" width="1" height="15.79" fill="#089981"/>
<rect x="642.88" y="189.97" width="4.35" height="1.5" fill="#068c76"/>
<rect x="651.09" y="183.21" width="1" height="13.28" fill="#f23645"/>
<rect x="649.77" y="189.82" width="3.65" height="2.81" fill="#f23645" stroke="#ef1231" stroke-width="0.7"/>
<rect x="657.62" y="188.47" width="1" height="12.28" fill="#f23645"/>
<rect x="656.3" y="193.33" width="3.65" height="4.81" fill="#f23645" stroke="#ef1231" stroke-width="0.7"/>
<rect x="664.15" y="189.22" width="1" height="39.85" fill="#f23645"/>
<rect x="662.83" y="198.34" width="3.65" height="22.36" fill="#f23645" stroke="#ef1231" stroke-width="0.7"/>
<rect x="670.68" y="192.98" width="1" height="30.58" fill="#089981"/>
<rect x="669.36" y="201.35" width="3.65" height="19.35" fill="#089981" stroke="#068c76" stroke-width="0.7"/>
<rect x="677.21" y="189.47" width="1" height="13.28" fill="#089981"/>
<rect x="675.89" y="192.33" width="3.65" height="8.32" fill="#089981" stroke="#068c76" stroke-width="0.7"/>
<rect x="683.74" y="185.21" width="1" height="10.03" fill="#089981"/>
<rect x="682.07" y="190.98" width="4.35" height="1.25" fill="#068c76"/>
<rect x="690.27" y="157.14" width="1" height="36.09" fill="#089981"/>
<rect x="688.95" y="160" width="3.65" height="31.38" fill="#089981" stroke="#068c76" stroke-width="0.7"/>
<rect x="696.8" y="158.9" width="1" height="13.78" fill="#089981"/>
<rect x="695.12" y="159.4" width="4.35" height="0.9" fill="#068c76"/>
<rect x="703.33" y="159.15" width="1" height="14.79" fill="#f23645"/>
<rect x="702.01" y="160" width="3.65" height="11.08" fill="#f23645" stroke="#ef1231" stroke-width="0.7"/>
<rect x="709.86" y="169.42" width="1" height="22.56" fill="#f23645"/>
<rect x="708.54" y="171.53" width="3.65" height="19.6" fill="#f23645" stroke="#ef1231" stroke-width="0.7"/>
<rect x="716.39" y="187.72" width="1" height="23.81" fill="#089981"/>
<rect x="715.07" y="188.82" width="3.65" height="2.31" fill="#089981" stroke="#068c76" stroke-width="0.7"/>
<rect x="722.92" y="187.47" width="1" height="12.78" fill="#f23645"/>
<rect x="721.6" y="188.82" width="3.65" height="3.81" fill="#f23645" stroke="#ef1231" stroke-width="0.7"/>
<rect x="729.45" y="187.72" width="1" height="11.78" fill="#089981"/>
<rect x="727.78" y="191.98" width="4.35" height="1.25" fill="#068c76"/>
<rect x="735.98" y="168.17" width="1" height="27.57" fill="#089981"/>
<rect x="734.66" y="183.81" width="3.65" height="8.57" fill="#089981" stroke="#068c76" stroke-width="0.7"/>
<rect x="742.51" y="176.94" width="1" height="30.33" fill="#f23645"/>
<rect x="741.19" y="183.81" width="3.65" height="15.09" fill="#f23645" stroke="#ef1231" stroke-width="0.7"/>
<rect x="749.04" y="191.98" width="1" height="14.04" fill="#089981"/>
<rect x="747.72" y="196.59" width="3.65" height="2.31" fill="#089981" stroke="#068c76" stroke-width="0.7"/>
<rect x="755.57" y="194.74" width="1" height="8.77" fill="#f23645"/>
<rect x="753.9" y="196.24" width="4.35" height="1.75" fill="#ef1231"/>
<rect x="762.1" y="185.21" width="1" height="28.82" fill="#f23645"/>
<rect x="760.78" y="198.34" width="3.65" height="9.07" fill="#f23645" stroke="#ef1231" stroke-width="0.7"/>
<rect x="768.63" y="203.26" width="1" height="21.3" fill="#f23645"/>
<rect x="767.31" y="208.12" width="3.65" height="8.07" fill="#f23645" stroke="#ef1231" stroke-width="0.7"/>
<rect x="775.16" y="207.77" width="1" height="36.84" fill="#f23645"/>
<rect x="773.84" y="216.89" width="3.65" height="8.57" fill="#f23645" stroke="#ef1231" stroke-width="0.7"/>
<rect x="781.69" y="188.22" width="1" height="45.86" fill="#089981"/>
<rect x="780.37" y="193.58" width="3.65" height="31.88" fill="#089981" stroke="#068c76" stroke-width="0.7"/>
<rect x="788.22" y="186.72" width="1" height="11.03" fill="#089981"/>
<rect x="786.9" y="189.07" width="3.65" height="3.81" fill="#089981" stroke="#068c76" stroke-width="0.7"/>
<rect x="794.75" y="173.93" width="1" height="15.79" fill="#089981"/>
<rect x="793.43" y="180.55" width="3.65" height="7.82" fill="#089981" stroke="#068c76" stroke-width="0.7"/>
<rect x="801.28" y="173.28" width="1" height="11.28" fill="#f23645"/>
<rect x="799.96" y="180.4" width="3.65" height="2.06" fill="#f23645" stroke="#ef1231" stroke-width="0.7"/>
<rect x="807.81" y="176.29" width="1" height="9.02" fill="#089981"/>
<rect x="806.14" y="181.55" width="4.35" height="0.9" fill="#068c76"/>
<rect x="814.34" y="177.79" width="1" height="4.76" fill="#089981"/>
<rect x="812.67" y="180.05" width="4.35" height="2.01" fill="#068c76"/>
<rect x="820.87" y="172.03" width="1" height="8.77" fill="#089981"/>
<rect x="819.55" y="173.38" width="3.65" height="6.57" fill="#089981" stroke="#068c76" stroke-width="0.7"/>
<rect x="827.4" y="170.28" width="1" height="13.28" fill="#f23645"/>
<rect x="826.08" y="173.38" width="3.65" height="7.32" fill="#f23645" stroke="#ef1231" stroke-width="0.7"/>
<rect x="833.93" y="178.3" width="1" height="15.79" fill="#f23645"/>
<rect x="832.61" y="181.15" width="3.65" height="10.33" fill="#f23645" stroke="#ef1231" stroke-width="0.7"/>
<rect x="840.46" y="162.76" width="1" height="32.08" fill="#089981"/>
<rect x="839.14" y="169.62" width="3.65" height="21.86" fill="#089981" stroke="#068c76" stroke-width="0.7"/>
<rect x="846.99" y="158.25" width="1" height="12.03" fill="#089981"/>
<rect x="845.67" y="164.36" width="3.65" height="5.06" fill="#089981" stroke="#068c76" stroke-width="0.7"/>
<rect x="853.52" y="162.26" width="1" height="18.05" fill="#f23645"/>
<rect x="852.2" y="164.36" width="3.65" height="11.08" fill="#f23645" stroke="#ef1231" stroke-width="0.7"/>
<rect x="860.05" y="172.03" width="1" height="4.51" fill="#089981"/>
<rect x="858.38" y="174.04" width="4.35" height="1.75" fill="#068c76"/>
<rect x="866.58" y="163.26" width="1" height="12.53" fill="#089981"/>
<rect x="865.26" y="167.37" width="3.65" height="6.57" fill="#089981" stroke="#068c76" stroke-width="0.7"/>
<rect x="873.11" y="162.76" width="1" height="15.79" fill="#f23645"/>
<rect x="871.79" y="167.37" width="3.65" height="6.57" fill="#f23645" stroke="#ef1231" stroke-width="0.7"/>
<rect x="879.64" y="166.52" width="1" height="12.03" fill="#089981"/>
<rect x="878.32" y="168.87" width="3.65" height="5.06" fill="#089981" stroke="#068c76" stroke-width="0.7"/>
<rect x="886.17" y="147.72" width="1" height="24.56" fill="#089981"/>
<rect x="884.85" y="154.33" width="3.65" height="14.34" fill="#089981" stroke="#068c76" stroke-width="0.7"/>
<rect x="892.7" y="117.14" width="1" height="40.6" fill="#089981"/>
<rect x="891.38" y="122.51" width="3.65" height="31.13" fill="#089981" stroke="#068c76" stroke-width="0.7"/>
<rect x="899.23" y="104.11" width="1" height="22.81" fill="#089981"/>
<rect x="897.91" y="113.23" width="3.65" height="9.07" fill="#089981" stroke="#068c76" stroke-width="0.7"/>
<rect x="905.76" y="108.87" width="1" height="8.02" fill="#f23645"/>
<rect x="904.09" y="112.13" width="4.35" height="1" fill="#ef1231"/>
<rect x="912.29" y="100.6" width="1" height="13.53" fill="#089981"/>
<rect x="910.97" y="103.46" width="3.65" height="9.83" fill="#089981" stroke="#068c76" stroke-width="0.7"/>
<rect x="918.82" y="78.05" width="1" height="25.81" fill="#089981"/>
<rect x="917.5" y="99.2" width="3.65" height="3.81" fill="#089981" stroke="#068c76" stroke-width="0.7"/>
<rect x="925.35" y="97.59" width="1" height="27.07" fill="#f23645"/>
<rect x="924.03" y="99.2" width="3.65" height="12.33" fill="#f23645" stroke="#ef1231" stroke-width="0.7"/>
<rect x="931.88" y="97.09" width="1" height="18.55" fill="#089981"/>
<rect x="930.56" y="106.21" width="3.65" height="5.32" fill="#089981" stroke="#068c76" stroke-width="0.7"/>
<rect x="938.41" y="91.83" width="1" height="20.8" fill="#089981"/>
<rect x="937.09" y="102.46" width="3.65" height="3.06" fill="#089981" stroke="#068c76" stroke-width="0.7"/>
<rect x="944.94" y="91.83" width="1" height="24.81" fill="#f23645"/>
<rect x="943.62" y="102.46" width="3.65" height="7.82" fill="#f23645" stroke="#ef1231" stroke-width="0.7"/>
<rect x="951.47" y="106.37" width="1" height="7.52" fill="#f23645"/>
<rect x="949.8" y="110.13" width="4.35" height="1" fill="#ef1231"/>
<rect x="958" y="104.11" width="1" height="15.04" fill="#f23645"/>
<rect x="956.68" y="111.23" width="3.65" height="3.06" fill="#f23645" stroke="#ef1231" stroke-width="0.7"/>
<rect x="964.53" y="99.6" width="1" height="18.55" fill="#089981"/>
<rect x="962.86" y="113.13" width="4.35" height="0.9" fill="#068c76"/>
<rect x="971.06" y="95.84" width="1" height="25.06" fill="#089981"/>
<rect x="969.74" y="97.94" width="3.65" height="15.59" fill="#089981" stroke="#068c76" stroke-width="0.7"/>
<rect x="977.59" y="96.34" width="1" height="17.54" fill="#f23645"/>
<rect x="976.27" y="97.44" width="3.65" height="7.32" fill="#f23645" stroke="#ef1231" stroke-width="0.7"/>
<rect x="984.12" y="100.1" width="1" height="14.54" fill="#f23645"/>
<rect x="982.8" y="105.46" width="3.65" height="1.81" fill="#f23645" stroke="#ef1231" stroke-width="0.7"/>
<rect x="990.65" y="106.37" width="1" height="24.31" fill="#f23645"/>
<rect x="989.33" y="107.47" width="3.65" height="5.06" fill="#f23645" stroke="#ef1231" stroke-width="0.7"/>
<rect x="997.18" y="106.62" width="1" height="8.02" fill="#089981"/>
<rect x="995.86" y="110.48" width="3.65" height="2.31" fill="#089981" stroke="#068c76" stroke-width="0.7"/>
<rect x="1003.71" y="98.35" width="1" height="12.78" fill="#089981"/>
<rect x="1002.39" y="100.45" width="3.65" height="9.83" fill="#089981" stroke="#068c76" stroke-width="0.7"/>
<rect x="1010.24" y="98.85" width="1" height="14.29" fill="#f23645"/>
<rect x="1008.92" y="100.45" width="3.65" height="8.82" fill="#f23645" stroke="#ef1231" stroke-width="0.7"/>
<rect x="1016.77" y="102.11" width="1" height="14.79" fill="#f23645"/>
<rect x="1015.1" y="109.12" width="4.35" height="1.25" fill="#ef1231"/>
<rect x="1023.3" y="104.61" width="1" height="19.05" fill="#f23645"/>
<rect x="1021.63" y="110.13" width="4.35" height="0.9" fill="#ef1231"/>
<rect x="1029.83" y="103.86" width="1" height="21.3" fill="#f23645"/>
<rect x="1028.51" y="111.23" width="3.65" height="12.83" fill="#f23645" stroke="#ef1231" stroke-width="0.7"/>
<rect x="1036.36" y="122.16" width="1" height="21.05" fill="#f23645"/>
<rect x="1035.04" y="124.26" width="3.65" height="16.34" fill="#f23645" stroke="#ef1231" stroke-width="0.7"/>
<rect x="1042.89" y="135.19" width="1" height="12.53" fill="#f23645"/>
<rect x="1041.57" y="141.05" width="3.65" height="4.06" fill="#f23645" stroke="#ef1231" stroke-width="0.7"/>
<rect x="1049.42" y="130.18" width="1" height="18.8" fill="#089981"/>
<rect x="1048.1" y="134.79" width="3.65" height="10.33" fill="#089981" stroke="#068c76" stroke-width="0.7"/>
<rect x="1055.95" y="123.91" width="1" height="11.03" fill="#089981"/>
<rect x="1054.62" y="128.52" width="3.65" height="5.57" fill="#089981" stroke="#068c76" stroke-width="0.7"/>
<rect x="1062.48" y="127.17" width="1" height="16.79" fill="#f23645"/>
<rect x="1061.15" y="128.52" width="3.65" height="5.82" fill="#f23645" stroke="#ef1231" stroke-width="0.7"/>
<rect x="1069.01" y="123.91" width="1" height="15.29" fill="#089981"/>
<rect x="1067.69" y="129.52" width="3.65" height="4.81" fill="#089981" stroke="#068c76" stroke-width="0.7"/>
<rect x="1075.54" y="111.38" width="1" height="21.8" fill="#089981"/>
<rect x="1074.22" y="112.98" width="3.65" height="16.34" fill="#089981" stroke="#068c76" stroke-width="0.7"/>
<rect x="1082.07" y="111.38" width="1" height="12.28" fill="#f23645"/>
<rect x="1080.75" y="112.98" width="3.65" height="4.81" fill="#f23645" stroke="#ef1231" stroke-width="0.7"/>
<rect x="1088.6" y="109.62" width="1" height="10.53" fill="#f23645"/>
<rect x="1086.93" y="118.15" width="4.35" height="1.75" fill="#ef1231"/>
<rect x="1095.13" y="100.6" width="1" height="19.8" fill="#089981"/>
<rect x="1093.81" y="102.46" width="3.65" height="17.09" fill="#089981" stroke="#068c76" stroke-width="0.7"/>
<rect x="1101.66" y="83.06" width="1" height="26.57" fill="#f23645"/>
<rect x="1100.34" y="102.46" width="3.65" height="3.31" fill="#f23645" stroke="#ef1231" stroke-width="0.7"/>
<rect x="1108.19" y="94.59" width="1" height="14.04" fill="#089981"/>
<rect x="1106.87" y="97.44" width="3.65" height="8.32" fill="#089981" stroke="#068c76" stroke-width="0.7"/>
<rect x="1114.72" y="74.54" width="1" height="29.32" fill="#089981"/>
<rect x="1113.39" y="77.39" width="3.65" height="19.85" fill="#089981" stroke="#068c76" stroke-width="0.7"/>
<rect x="1121.25" y="70.03" width="1" height="44.61" fill="#f23645"/>
<rect x="1119.93" y="77.39" width="3.65" height="29.88" fill="#f23645" stroke="#ef1231" stroke-width="0.7"/>
<rect x="1127.78" y="101.35" width="1" height="15.54" fill="#f23645"/>
<rect x="1126.46" y="107.97" width="3.65" height="5.32" fill="#f23645" stroke="#ef1231" stroke-width="0.7"/>
<rect x="1134.31" y="109.62" width="1" height="5.01" fill="#089981"/>
<rect x="1132.64" y="113.13" width="4.35" height="1" fill="#068c76"/>
<rect x="1140.84" y="105.61" width="1" height="8.27" fill="#089981"/>
<rect x="1139.17" y="112.88" width="4.35" height="0.9" fill="#068c76"/>
<rect x="1147.37" y="112.13" width="1" height="18.55" fill="#f23645"/>
<rect x="1146.05" y="113.73" width="3.65" height="6.57" fill="#f23645" stroke="#ef1231" stroke-width="0.7"/>
<rect x="1153.9" y="118.15" width="1" height="26.07" fill="#f23645"/>
<rect x="1152.58" y="121" width="3.65" height="22.36" fill="#f23645" stroke="#ef1231" stroke-width="0.7"/>
<rect x="1160.43" y="131.43" width="1" height="15.04" fill="#089981"/>
<rect x="1159.11" y="134.03" width="3.65" height="9.33" fill="#089981" stroke="#068c76" stroke-width="0.7"/>
<rect x="1166.96" y="130.18" width="1" height="17.54" fill="#f23645"/>
<rect x="1165.63" y="134.03" width="3.65" height="11.58" fill="#f23645" stroke="#ef1231" stroke-width="0.7"/>
<rect x="1173.49" y="113.13" width="1" height="37.59" fill="#089981"/>
<rect x="1172.17" y="117.49" width="3.65" height="28.12" fill="#089981" stroke="#068c76" stroke-width="0.7"/>
<rect x="1180.02" y="116.39" width="1" height="15.29" fill="#f23645"/>
<rect x="1178.7" y="117.49" width="3.65" height="8.82" fill="#f23645" stroke="#ef1231" stroke-width="0.7"/>
<rect x="1186.55" y="124.66" width="1" height="33.08" fill="#f23645"/>
<rect x="1185.23" y="127.02" width="3.65" height="11.33" fill="#f23645" stroke="#ef1231" stroke-width="0.7"/>
<rect x="1193.08" y="137.69" width="1" height="28.57" fill="#f23645"/>
<rect x="1191.76" y="139.05" width="3.65" height="21.61" fill="#f23645" stroke="#ef1231" stroke-width="0.7"/>
<rect x="1199.61" y="145.71" width="1" height="24.56" fill="#089981"/>
<rect x="1198.29" y="150.58" width="3.65" height="10.08" fill="#089981" stroke="#068c76" stroke-width="0.7"/>
<rect x="1206.14" y="144.46" width="1" height="15.04" fill="#f23645"/>
<rect x="1204.82" y="150.58" width="3.65" height="2.81" fill="#f23645" stroke="#ef1231" stroke-width="0.7"/>
<rect x="1212.67" y="138.95" width="1" height="16.29" fill="#089981"/>
<rect x="1211.35" y="145.56" width="3.65" height="7.82" fill="#089981" stroke="#068c76" stroke-width="0.7"/>
<rect x="1219.2" y="143.96" width="1" height="34.59" fill="#f23645"/>
<rect x="1217.88" y="145.56" width="3.65" height="26.87" fill="#f23645" stroke="#ef1231" stroke-width="0.7"/>
<rect x="1225.73" y="169.02" width="1" height="10.03" fill="#089981"/>
<rect x="1224.41" y="169.87" width="3.65" height="2.56" fill="#089981" stroke="#068c76" stroke-width="0.7"/>
<rect x="1232.26" y="165.26" width="1" height="9.02" fill="#f23645"/>
<rect x="1230.94" y="169.87" width="3.65" height="3.56" fill="#f23645" stroke="#ef1231" stroke-width="0.7"/>
<rect x="1238.79" y="162.26" width="1" height="18.05" fill="#089981"/>
<rect x="1237.47" y="167.37" width="3.65" height="6.32" fill="#089981" stroke="#068c76" stroke-width="0.7"/>
<rect x="1245.32" y="149.72" width="1" height="23.06" fill="#089981"/>
<rect x="1244" y="154.08" width="3.65" height="12.58" fill="#089981" stroke="#068c76" stroke-width="0.7"/>
<rect x="1251.85" y="145.21" width="1" height="12.53" fill="#089981"/>
<rect x="1250.53" y="150.58" width="3.65" height="3.06" fill="#089981" stroke="#068c76" stroke-width="0.7"/>
<rect x="1258.38" y="146.97" width="1" height="19.05" fill="#f23645"/>
<rect x="1257.06" y="150.58" width="3.65" height="6.82" fill="#f23645" stroke="#ef1231" stroke-width="0.7"/>
<rect x="1264.91" y="139.7" width="1" height="20.55" fill="#f23645"/>
<rect x="1263.24" y="156.74" width="4.35" height="1.25" fill="#ef1231"/>
<rect x="1271.44" y="152.73" width="1" height="8.52" fill="#f23645"/>
<rect x="1270.12" y="157.59" width="3.65" height="2.81" fill="#f23645" stroke="#ef1231" stroke-width="0.7"/>
<rect x="1277.97" y="151.23" width="1" height="10.03" fill="#089981"/>
<rect x="1276.64" y="154.84" width="3.65" height="5.57" fill="#089981" stroke="#068c76" stroke-width="0.7"/>
<rect x="1284.5" y="142.21" width="1" height="15.54" fill="#089981"/>
<rect x="1283.18" y="148.57" width="3.65" height="5.82" fill="#089981" stroke="#068c76" stroke-width="0.7"/>
<rect x="1291.03" y="139.7" width="1" height="16.79" fill="#f23645"/>
<rect x="1289.71" y="148.57" width="3.65" height="3.06" fill="#f23645" stroke="#ef1231" stroke-width="0.7"/>
<rect x="1297.56" y="132.68" width="1" height="22.06" fill="#089981"/>
<rect x="1296.24" y="135.54" width="3.65" height="16.34" fill="#089981" stroke="#068c76" stroke-width="0.7"/>
<rect x="1304.09" y="125.16" width="1" height="13.03" fill="#089981"/>
<rect x="1302.77" y="126.26" width="3.65" height="8.57" fill="#089981" stroke="#068c76" stroke-width="0.7"/>
<rect x="1310.62" y="117.14" width="1" height="12.28" fill="#089981"/>
<rect x="1309.3" y="122.51" width="3.65" height="3.06" fill="#089981" stroke="#068c76" stroke-width="0.7"/>
<rect x="1317.15" y="120.65" width="1" height="6.02" fill="#f23645"/>
<rect x="1315.48" y="121.9" width="4.35" height="1.25" fill="#ef1231"/>
<rect x="1323.68" y="120.9" width="1" height="6.52" fill="#f23645"/>
<rect x="1322.36" y="123.51" width="3.65" height="3.06" fill="#f23645" stroke="#ef1231" stroke-width="0.7"/>
<rect x="1330.21" y="118.15" width="1" height="14.54" fill="#089981"/>
<rect x="1328.54" y="125.91" width="4.35" height="1.25" fill="#068c76"/>
<rect x="1336.74" y="115.89" width="1" height="14.29" fill="#089981"/>
<rect x="1335.42" y="117.49" width="3.65" height="9.07" fill="#089981" stroke="#068c76" stroke-width="0.7"/>
<rect x="1343.27" y="113.88" width="1" height="16.54" fill="#f23645"/>
<rect x="1341.95" y="117.49" width="3.65" height="2.06" fill="#f23645" stroke="#ef1231" stroke-width="0.7"/>
<rect x="1349.8" y="110.13" width="1" height="11.53" fill="#089981"/>
<rect x="1348.48" y="115.49" width="3.65" height="4.31" fill="#089981" stroke="#068c76" stroke-width="0.7"/>
<rect x="1356.33" y="112.63" width="1" height="15.04" fill="#f23645"/>
<rect x="1355.01" y="115.49" width="3.65" height="9.07" fill="#f23645" stroke="#ef1231" stroke-width="0.7"/>
<rect x="1362.86" y="120.9" width="1" height="4.01" fill="#089981"/>
<rect x="1361.19" y="123.91" width="4.35" height="0.9" fill="#068c76"/>
<rect x="1369.39" y="123.16" width="1" height="5.01" fill="#f23645"/>
<rect x="1368.07" y="124.51" width="3.65" height="2.81" fill="#f23645" stroke="#ef1231" stroke-width="0.7"/>
<rect x="1375.92" y="126.42" width="1" height="23.06" fill="#f23645"/>
<rect x="1374.6" y="127.77" width="3.65" height="16.59" fill="#f23645" stroke="#ef1231" stroke-width="0.7"/>
<rect x="1382.45" y="139.7" width="1" height="11.78" fill="#f23645"/>
<rect x="1381.12" y="144.56" width="3.65" height="3.81" fill="#f23645" stroke="#ef1231" stroke-width="0.7"/>
<rect x="1388.98" y="135.19" width="1" height="18.8" fill="#089981"/>
<rect x="1387.66" y="140.55" width="3.65" height="7.82" fill="#089981" stroke="#068c76" stroke-width="0.7"/>
<rect x="1395.51" y="138.2" width="1" height="32.33" fill="#f23645"/>
<rect x="1394.19" y="140.05" width="3.65" height="28.62" fill="#f23645" stroke="#ef1231" stroke-width="0.7"/>
<rect x="1402.04" y="159.75" width="1" height="11.03" fill="#089981"/>
<rect x="1400.72" y="164.61" width="3.65" height="4.56" fill="#089981" stroke="#068c76" stroke-width="0.7"/>
<rect x="1408.57" y="162.26" width="1" height="5.01" fill="#f23645"/>
<rect x="1406.9" y="163.76" width="4.35" height="1" fill="#ef1231"/>
<rect x="1415.1" y="145.96" width="1" height="20.3" fill="#089981"/>
<rect x="1413.78" y="147.82" width="3.65" height="16.59" fill="#089981" stroke="#068c76" stroke-width="0.7"/>
<rect x="1421.63" y="132.68" width="1" height="18.05" fill="#089981"/>
<rect x="1420.31" y="133.53" width="3.65" height="14.09" fill="#089981" stroke="#068c76" stroke-width="0.7"/>
<rect x="1428.16" y="130.18" width="1" height="13.28" fill="#f23645"/>
<rect x="1426.84" y="133.53" width="3.65" height="1.81" fill="#f23645" stroke="#ef1231" stroke-width="0.7"/>
<rect x="1434.69" y="105.36" width="1" height="30.33" fill="#089981"/>
<rect x="1433.37" y="106.21" width="3.65" height="29.12" fill="#089981" stroke="#068c76" stroke-width="0.7"/>
<rect x="1441.22" y="91.33" width="1" height="16.29" fill="#089981"/>
<rect x="1439.9" y="94.44" width="3.65" height="11.08" fill="#089981" stroke="#068c76" stroke-width="0.7"/>
<rect x="1447.75" y="73.03" width="1" height="27.57" fill="#089981"/>
<rect x="1446.43" y="83.41" width="3.65" height="10.33" fill="#089981" stroke="#068c76" stroke-width="0.7"/>
<rect x="1454.28" y="80.55" width="1" height="5.51" fill="#089981"/>
<rect x="1452.61" y="82.81" width="4.35" height="0.9" fill="#068c76"/>
</g>
<line x1="8.5" y1="83.3" x2="1523.5" y2="83.3" stroke="#089981" stroke-width="1" stroke-dasharray="0.9 1.7" opacity="0.75"/>
<defs><linearGradient id="gg" gradientUnits="userSpaceOnUse" x1="0" y1="435.96" x2="0" y2="541.62"><stop offset="0" stop-color="#4caf50" stop-opacity="1"/><stop offset="1" stop-color="#4caf50" stop-opacity="0"/></linearGradient><linearGradient id="gr" gradientUnits="userSpaceOnUse" x1="0" y1="682.5" x2="0" y2="788.16"><stop offset="0" stop-color="#ff5252" stop-opacity="0"/><stop offset="1" stop-color="#ff5252" stop-opacity="1"/></linearGradient><clipPath id="c70"><rect x="8.5" y="488.4" width="1515.0" height="53.22"/></clipPath><clipPath id="c30"><rect x="8.5" y="682.5" width="1515.0" height="37.5"/></clipPath></defs>
<rect x="9.0" y="541.62" width="1514.5" height="140.88" fill="#7e57c2" fill-opacity="0.1"/>
<g clip-path="url(#c70)"><polygon points="9,541.62 9,676.43 11.65,684.15 18.18,701.52 24.71,695.73 31.24,697.11 37.77,676.43 44.3,606.96 50.83,649.14 57.36,641.97 63.89,622.12 70.42,625.71 76.95,640.87 83.48,643.9 90.01,666.23 96.54,673.67 103.07,645 109.6,640.59 116.13,651.62 122.66,633.7 129.19,631.5 135.72,640.04 142.25,630.67 148.78,637.01 155.31,611.65 161.84,625.71 168.37,626.26 174.9,627.36 181.43,612.47 187.96,603.65 194.49,604.2 201.02,608.06 207.55,605.86 214.08,627.36 220.61,638.39 227.14,639.77 233.67,638.39 240.2,615.23 246.73,634.25 253.26,628.46 259.79,622.4 266.32,625.16 272.85,659.34 279.38,651.9 285.91,667.88 292.44,617.44 298.97,634.8 305.5,610.54 312.03,600.07 318.56,609.44 325.09,604.2 331.62,610.54 338.15,607.79 344.68,601.45 351.21,605.31 357.74,601.17 364.27,600.07 370.8,582.98 377.33,550.17 383.86,549.07 390.39,547.69 396.92,544.11 403.45,544.66 409.98,555.13 416.51,547.97 423.04,557.06 429.57,558.44 436.1,543.56 442.63,541.35 449.16,554.31 455.69,575.53 462.22,572.23 468.75,556.24 475.28,554.86 481.81,521.5 488.34,524.81 494.87,517.37 501.4,526.19 507.93,543.56 514.46,536.39 520.99,544.11 527.52,542.18 534.05,547.14 540.58,551.55 547.11,530.88 553.64,543 560.17,534.46 566.7,521.5 573.23,512.13 579.76,564.51 586.29,562.03 592.82,554.58 599.35,552.1 605.88,558.44 612.41,573.05 618.94,595.93 625.47,610.82 632,604.2 638.53,595.66 645.06,594 651.59,598.69 658.12,606.41 664.65,637.84 671.18,609.17 677.71,598.69 684.24,597.04 690.77,563.68 697.3,563.68 703.83,581.6 710.36,609.17 716.89,605.86 723.42,611.65 729.95,611.1 736.48,598.41 743.01,620.47 749.54,617.44 756.07,619.64 762.6,633.15 769.13,642.52 775.66,652.45 782.19,606.13 788.72,598.97 795.25,589.32 801.78,592.9 808.31,592.35 814.84,589.87 821.37,580.22 827.9,596.49 834.43,612.47 840.96,581.87 847.49,576.09 854.02,594.56 860.55,592.35 867.08,583.53 873.61,595.11 880.14,588.22 886.67,567.54 893.2,537.22 899.73,530.05 906.26,531.43 912.79,523.98 919.32,520.12 925.85,547.97 932.38,542.73 938.91,539.42 945.44,555.96 951.97,557.89 958.5,566.16 965.03,565.06 971.56,545.76 978.09,562.58 984.62,568.09 991.15,578.84 997.68,575.26 1004.21,562.3 1010.74,581.87 1017.27,584.08 1023.8,585.46 1030.33,613.03 1036.86,640.59 1043.39,646.66 1049.92,625.43 1056.45,615.51 1062.98,625.43 1069.51,613.3 1076.04,588.22 1082.57,598.14 1089.1,600.34 1095.63,573.6 1102.16,581.6 1108.69,568.09 1115.22,546.31 1121.75,599.52 1128.28,607.51 1134.81,607.51 1141.34,607.51 1147.87,618.54 1154.4,646.38 1160.93,632.32 1167.46,644.73 1173.99,606.69 1180.52,617.44 1187.05,630.94 1193.58,651.34 1200.11,637.84 1206.64,641.14 1213.17,629.57 1219.7,654.65 1226.23,650.79 1232.76,654.1 1239.29,644.45 1245.82,626.81 1252.35,622.12 1258.88,630.12 1265.41,630.67 1271.94,634.53 1278.47,624.05 1285,614.96 1291.53,619.92 1298.06,595.66 1304.59,582.7 1311.12,578.02 1317.65,579.94 1324.18,588.22 1330.71,587.39 1337.24,573.6 1343.77,578.57 1350.3,572.23 1356.83,592.63 1363.36,592.07 1369.89,599.24 1376.42,630.67 1382.95,638.66 1389.48,620.47 1396.01,660.17 1402.54,651.34 1409.07,651.62 1415.6,620.74 1422.13,599.24 1428.66,602.55 1435.19,566.16 1441.72,553.76 1448.25,544.38 1454.78,543.56 1454.78,541.62" fill="url(#gg)"/></g>
<g clip-path="url(#c30)"><polygon points="9,682.5 9,676.43 11.65,684.15 18.18,701.52 24.71,695.73 31.24,697.11 37.77,676.43 44.3,606.96 50.83,649.14 57.36,641.97 63.89,622.12 70.42,625.71 76.95,640.87 83.48,643.9 90.01,666.23 96.54,673.67 103.07,645 109.6,640.59 116.13,651.62 122.66,633.7 129.19,631.5 135.72,640.04 142.25,630.67 148.78,637.01 155.31,611.65 161.84,625.71 168.37,626.26 174.9,627.36 181.43,612.47 187.96,603.65 194.49,604.2 201.02,608.06 207.55,605.86 214.08,627.36 220.61,638.39 227.14,639.77 233.67,638.39 240.2,615.23 246.73,634.25 253.26,628.46 259.79,622.4 266.32,625.16 272.85,659.34 279.38,651.9 285.91,667.88 292.44,617.44 298.97,634.8 305.5,610.54 312.03,600.07 318.56,609.44 325.09,604.2 331.62,610.54 338.15,607.79 344.68,601.45 351.21,605.31 357.74,601.17 364.27,600.07 370.8,582.98 377.33,550.17 383.86,549.07 390.39,547.69 396.92,544.11 403.45,544.66 409.98,555.13 416.51,547.97 423.04,557.06 429.57,558.44 436.1,543.56 442.63,541.35 449.16,554.31 455.69,575.53 462.22,572.23 468.75,556.24 475.28,554.86 481.81,521.5 488.34,524.81 494.87,517.37 501.4,526.19 507.93,543.56 514.46,536.39 520.99,544.11 527.52,542.18 534.05,547.14 540.58,551.55 547.11,530.88 553.64,543 560.17,534.46 566.7,521.5 573.23,512.13 579.76,564.51 586.29,562.03 592.82,554.58 599.35,552.1 605.88,558.44 612.41,573.05 618.94,595.93 625.47,610.82 632,604.2 638.53,595.66 645.06,594 651.59,598.69 658.12,606.41 664.65,637.84 671.18,609.17 677.71,598.69 684.24,597.04 690.77,563.68 697.3,563.68 703.83,581.6 710.36,609.17 716.89,605.86 723.42,611.65 729.95,611.1 736.48,598.41 743.01,620.47 749.54,617.44 756.07,619.64 762.6,633.15 769.13,642.52 775.66,652.45 782.19,606.13 788.72,598.97 795.25,589.32 801.78,592.9 808.31,592.35 814.84,589.87 821.37,580.22 827.9,596.49 834.43,612.47 840.96,581.87 847.49,576.09 854.02,594.56 860.55,592.35 867.08,583.53 873.61,595.11 880.14,588.22 886.67,567.54 893.2,537.22 899.73,530.05 906.26,531.43 912.79,523.98 919.32,520.12 925.85,547.97 932.38,542.73 938.91,539.42 945.44,555.96 951.97,557.89 958.5,566.16 965.03,565.06 971.56,545.76 978.09,562.58 984.62,568.09 991.15,578.84 997.68,575.26 1004.21,562.3 1010.74,581.87 1017.27,584.08 1023.8,585.46 1030.33,613.03 1036.86,640.59 1043.39,646.66 1049.92,625.43 1056.45,615.51 1062.98,625.43 1069.51,613.3 1076.04,588.22 1082.57,598.14 1089.1,600.34 1095.63,573.6 1102.16,581.6 1108.69,568.09 1115.22,546.31 1121.75,599.52 1128.28,607.51 1134.81,607.51 1141.34,607.51 1147.87,618.54 1154.4,646.38 1160.93,632.32 1167.46,644.73 1173.99,606.69 1180.52,617.44 1187.05,630.94 1193.58,651.34 1200.11,637.84 1206.64,641.14 1213.17,629.57 1219.7,654.65 1226.23,650.79 1232.76,654.1 1239.29,644.45 1245.82,626.81 1252.35,622.12 1258.88,630.12 1265.41,630.67 1271.94,634.53 1278.47,624.05 1285,614.96 1291.53,619.92 1298.06,595.66 1304.59,582.7 1311.12,578.02 1317.65,579.94 1324.18,588.22 1330.71,587.39 1337.24,573.6 1343.77,578.57 1350.3,572.23 1356.83,592.63 1363.36,592.07 1369.89,599.24 1376.42,630.67 1382.95,638.66 1389.48,620.47 1396.01,660.17 1402.54,651.34 1409.07,651.62 1415.6,620.74 1422.13,599.24 1428.66,602.55 1435.19,566.16 1441.72,553.76 1448.25,544.38 1454.78,543.56 1454.78,682.5" fill="url(#gr)"/></g>
<line x1="8.5" y1="541.62" x2="1523.5" y2="541.62" stroke="#868994" stroke-dashoffset="0.4" stroke-dasharray="4.4 5.195"/>
<line x1="8.5" y1="612.06" x2="1523.5" y2="612.06" stroke="#787b86" stroke-opacity="0.5" stroke-dashoffset="0.4" stroke-dasharray="4.4 5.195"/>
<line x1="8.5" y1="682.5" x2="1523.5" y2="682.5" stroke="#50535e" stroke-dashoffset="0.4" stroke-dasharray="4.4 5.195"/>
<g clip-path="url(#cr)">
<polyline fill="none" stroke="#fdd835" stroke-width="1" stroke-linejoin="round" points="9.1,632.87 16.54,639.21 24.81,645.28 31.7,650.24 37.77,653 44.38,651.34 55.13,652.45 63.96,652.17 76.91,654.65 89.87,658.24 96.49,658.79 103.1,656.03 109.72,651.34 116.06,648.31 122.67,643.35 129.29,641.14 135.63,643.35 142.25,642.25 155.2,640.87 168.44,639.77 175.05,638.39 181.39,635.08 188.01,630.12 194.62,626.81 200.96,624.6 207.58,621.3 214.2,620.74 227.15,621.57 233.77,621.57 240.39,620.19 246.73,622.12 259.96,622.12 266.3,621.85 272.92,625.43 279.53,629.01 285.87,633.15 292.49,634.25 299.1,635.63 305.44,634.53 312.06,631.77 325.02,627.36 331.63,626.81 344.59,622.95 357.82,619.92 370.78,611.37 377.39,602.55 384.01,597.31 390.35,590.97 400,584.08 416.54,573.6 436.11,562.85 442.73,557.89 449.35,554.86 455.96,553.48 462.3,552.93 468.92,553.48 475.53,553.76 481.87,551.83 488.49,550.45 495.11,548.52 501.72,546.86 508.06,546.31 514.68,544.66 521.3,543.56 527.64,543.28 534.25,543.28 540.87,543 547.21,541.08 553.82,538.87 560.44,536.66 567.06,534.46 573.4,534.18 580.01,537.22 586.63,540.52 592.97,542.18 599.59,542.73 606.2,544.38 612.54,546.59 619.16,550.45 625.78,554.58 632.39,558.99 638.73,563.13 645.35,567.26 651.96,571.95 658.3,578.29 664.92,586.01 671.54,589.59 677.88,592.35 684.49,595.38 691.11,595.93 697.73,596.21 704.07,596.76 710.68,597.59 717.3,597.31 723.64,597.86 730.25,598.69 736.87,599.79 743.21,601.17 749.83,601.72 756.44,600.62 762.78,602.55 769.4,605.31 776.02,608.89 782.63,612.2 788.97,614.96 795.59,615.23 800,614.4 808.55,612.75 815.16,611.1 821.78,609.44 834.73,608.89 841.35,605.58 847.97,602.55 854.31,599.52 860.92,595.93 867.54,591.52 873.88,590.7 880.5,589.87 887.11,588.22 893.73,584.08 900.07,579.94 906.69,575.81 913.3,572.23 919.64,566.16 926.26,562.03 932.87,558.44 939.21,555.96 945.83,553.76 952.45,551 959.06,549.9 965.4,547.97 972.02,544.66 978.64,544.93 984.98,547.42 991.59,551.27 998.21,554.58 1004.82,556.51 1011.16,560.37 1017.78,563.4 1024.4,566.16 1030.74,571.67 1037.35,578.02 1043.97,584.63 1050.31,588.77 1056.93,592.9 1063.54,597.59 1070.16,601.17 1076.5,603.1 1083.12,604.2 1089.73,605.58 1096.07,606.41 1102.69,606.41 1109.3,605.03 1115.64,602.83 1122.26,602 1128.88,599.24 1135.22,596.49 1141.83,595.38 1148.45,595.66 1155.07,597.04 1161.41,598.69 1168.02,602 1174.64,603.1 1180.98,604.2 1187.59,608.61 1194.21,614.13 1200,618.54 1207.17,625.43 1213.78,628.19 1220.4,631.22 1226.74,634.53 1233.36,637.28 1239.97,638.39 1246.31,637.01 1252.93,636.18 1259.55,635.35 1266.16,637.01 1272.5,638.11 1279.12,637.56 1285.73,635.35 1292.07,633.98 1298.69,631.22 1305.31,627.64 1311.65,622.67 1318.26,617.71 1324.88,612.75 1331.5,608.06 1337.84,604.2 1344.45,600.9 1351.07,596.49 1357.41,593.73 1364.02,590.97 1370.64,589.59 1376.98,590.97 1383.6,592.35 1390.21,594.56 1396.83,599.79 1403.17,605.58 1409.79,610.82 1416.4,612.47 1422.74,613.58 1429.36,615.23 1435.98,614.4 1442.32,612.47 1448.93,608.89 1454.17,605.86"/>
<polyline fill="none" stroke="#7e57c2" stroke-width="1" stroke-linejoin="round" points="9,676.43 11.65,684.15 18.18,701.52 24.71,695.73 31.24,697.11 37.77,676.43 44.3,606.96 50.83,649.14 57.36,641.97 63.89,622.12 70.42,625.71 76.95,640.87 83.48,643.9 90.01,666.23 96.54,673.67 103.07,645 109.6,640.59 116.13,651.62 122.66,633.7 129.19,631.5 135.72,640.04 142.25,630.67 148.78,637.01 155.31,611.65 161.84,625.71 168.37,626.26 174.9,627.36 181.43,612.47 187.96,603.65 194.49,604.2 201.02,608.06 207.55,605.86 214.08,627.36 220.61,638.39 227.14,639.77 233.67,638.39 240.2,615.23 246.73,634.25 253.26,628.46 259.79,622.4 266.32,625.16 272.85,659.34 279.38,651.9 285.91,667.88 292.44,617.44 298.97,634.8 305.5,610.54 312.03,600.07 318.56,609.44 325.09,604.2 331.62,610.54 338.15,607.79 344.68,601.45 351.21,605.31 357.74,601.17 364.27,600.07 370.8,582.98 377.33,550.17 383.86,549.07 390.39,547.69 396.92,544.11 403.45,544.66 409.98,555.13 416.51,547.97 423.04,557.06 429.57,558.44 436.1,543.56 442.63,541.35 449.16,554.31 455.69,575.53 462.22,572.23 468.75,556.24 475.28,554.86 481.81,521.5 488.34,524.81 494.87,517.37 501.4,526.19 507.93,543.56 514.46,536.39 520.99,544.11 527.52,542.18 534.05,547.14 540.58,551.55 547.11,530.88 553.64,543 560.17,534.46 566.7,521.5 573.23,512.13 579.76,564.51 586.29,562.03 592.82,554.58 599.35,552.1 605.88,558.44 612.41,573.05 618.94,595.93 625.47,610.82 632,604.2 638.53,595.66 645.06,594 651.59,598.69 658.12,606.41 664.65,637.84 671.18,609.17 677.71,598.69 684.24,597.04 690.77,563.68 697.3,563.68 703.83,581.6 710.36,609.17 716.89,605.86 723.42,611.65 729.95,611.1 736.48,598.41 743.01,620.47 749.54,617.44 756.07,619.64 762.6,633.15 769.13,642.52 775.66,652.45 782.19,606.13 788.72,598.97 795.25,589.32 801.78,592.9 808.31,592.35 814.84,589.87 821.37,580.22 827.9,596.49 834.43,612.47 840.96,581.87 847.49,576.09 854.02,594.56 860.55,592.35 867.08,583.53 873.61,595.11 880.14,588.22 886.67,567.54 893.2,537.22 899.73,530.05 906.26,531.43 912.79,523.98 919.32,520.12 925.85,547.97 932.38,542.73 938.91,539.42 945.44,555.96 951.97,557.89 958.5,566.16 965.03,565.06 971.56,545.76 978.09,562.58 984.62,568.09 991.15,578.84 997.68,575.26 1004.21,562.3 1010.74,581.87 1017.27,584.08 1023.8,585.46 1030.33,613.03 1036.86,640.59 1043.39,646.66 1049.92,625.43 1056.45,615.51 1062.98,625.43 1069.51,613.3 1076.04,588.22 1082.57,598.14 1089.1,600.34 1095.63,573.6 1102.16,581.6 1108.69,568.09 1115.22,546.31 1121.75,599.52 1128.28,607.51 1134.81,607.51 1141.34,607.51 1147.87,618.54 1154.4,646.38 1160.93,632.32 1167.46,644.73 1173.99,606.69 1180.52,617.44 1187.05,630.94 1193.58,651.34 1200.11,637.84 1206.64,641.14 1213.17,629.57 1219.7,654.65 1226.23,650.79 1232.76,654.1 1239.29,644.45 1245.82,626.81 1252.35,622.12 1258.88,630.12 1265.41,630.67 1271.94,634.53 1278.47,624.05 1285,614.96 1291.53,619.92 1298.06,595.66 1304.59,582.7 1311.12,578.02 1317.65,579.94 1324.18,588.22 1330.71,587.39 1337.24,573.6 1343.77,578.57 1350.3,572.23 1356.83,592.63 1363.36,592.07 1369.89,599.24 1376.42,630.67 1382.95,638.66 1389.48,620.47 1396.01,660.17 1402.54,651.34 1409.07,651.62 1415.6,620.74 1422.13,599.24 1428.66,602.55 1435.19,566.16 1441.72,553.76 1448.25,544.38 1454.78,543.56"/>
</g>
<text x="9" y="16.9" fill="#222" font-size="10.8" textLength="63.3" lengthAdjust="spacingAndGlyphs" >zoltan_vardai</text>
<text x="75.5" y="16.9" fill="#222" font-size="10.8" textLength="35" lengthAdjust="spacingAndGlyphs" >created</text>
<text x="114.2" y="16.9" fill="#222" font-size="10.8" textLength="20.8" lengthAdjust="spacingAndGlyphs" >with</text>
<text x="139.4" y="16.9" fill="#222" font-size="10.8" textLength="81.1" lengthAdjust="spacingAndGlyphs" >TradingView.com,</text>
<text x="224.8" y="16.9" fill="#222" font-size="10.8" textLength="15.2" lengthAdjust="spacingAndGlyphs" >Oct</text>
<text x="243.9" y="16.9" fill="#222" font-size="10.8" textLength="13.1" lengthAdjust="spacingAndGlyphs" >04,</text>
<text x="262.3" y="16.9" fill="#222" font-size="10.8" textLength="20.6" lengthAdjust="spacingAndGlyphs" >2025</text>
<text x="287.5" y="16.9" fill="#222" font-size="10.8" textLength="24.9" lengthAdjust="spacingAndGlyphs" >09:20</text>
<text x="316.4" y="16.9" fill="#222" font-size="10.8" textLength="18.1" lengthAdjust="spacingAndGlyphs" >UTC</text>
<text x="15.9" y="40" fill="#131722" textLength="31.9" lengthAdjust="spacingAndGlyphs" >Bitcoin</text>
<text x="53.4" y="40" fill="#131722" >/</text>
<text x="60" y="40" fill="#131722" textLength="16.5" lengthAdjust="spacingAndGlyphs" >U.S.</text>
<text x="82.9" y="40" fill="#131722" textLength="26.8" lengthAdjust="spacingAndGlyphs" >Dollar</text>
<text x="113.8" y="40" fill="#131722" >·</text>
<text x="121.5" y="40" fill="#131722" textLength="10.7" lengthAdjust="spacingAndGlyphs" >1D</text>
<text x="135.7" y="40" fill="#131722" >·</text>
<text x="142.5" y="40" fill="#131722" textLength="41.3" lengthAdjust="spacingAndGlyphs" >Coinbase</text>
<text x="190.7" y="40" fill="#131722" textLength="7" lengthAdjust="spacingAndGlyphs" >O</text>
<text x="198.4" y="40" fill="#089981" textLength="50.6" lengthAdjust="spacingAndGlyphs" >122,318.39</text>
<text x="255.7" y="40" fill="#131722" >H</text>
<text x="263.6" y="40" fill="#089981" textLength="50.6" lengthAdjust="spacingAndGlyphs" >122,896.00</text>
<text x="320.6" y="40" fill="#131722" >L</text>
<text x="325.8" y="40" fill="#089981" textLength="51" lengthAdjust="spacingAndGlyphs" >121,756.93</text>
<text x="383.2" y="40" fill="#131722" >C</text>
<text x="390.3" y="40" fill="#089981" textLength="51" lengthAdjust="spacingAndGlyphs" >122,424.56</text>
<text x="448" y="40" fill="#089981" textLength="79.2" lengthAdjust="spacingAndGlyphs" >+106.16 (+0.09%)</text>
<text x="15.8" y="54.75" fill="#131722" textLength="42.2" lengthAdjust="spacingAndGlyphs" >Vol · BTC</text>
<text x="64.5" y="54.75" fill="#26a69a" textLength="28" lengthAdjust="spacingAndGlyphs" >1.13 K</text>
<text x="15.8" y="69.6" fill="#131722" textLength="36.2" lengthAdjust="spacingAndGlyphs" >200 Day</text>
<text x="59.2" y="69.6" fill="#3cacea" textLength="51" lengthAdjust="spacingAndGlyphs" >105,520.45</text>
<text x="15.8" y="505.6" fill="#131722" textLength="66" lengthAdjust="spacingAndGlyphs" >RSI (14, close)</text>
<text x="89" y="505.6" fill="#7e57c2" textLength="24.8" lengthAdjust="spacingAndGlyphs" >69.21</text>
<text x="121" y="505.6" fill="#fdd835" textLength="25.5" lengthAdjust="spacingAndGlyphs" >51.54</text>
<text x="1531.8" y="76.28" fill="#131722" textLength="51" lengthAdjust="spacingAndGlyphs" >124,000.00</text>
<text x="1531.8" y="125.6" fill="#131722" textLength="51" lengthAdjust="spacingAndGlyphs" >116,000.00</text>
<text x="1531.8" y="178.45" fill="#131722" textLength="51" lengthAdjust="spacingAndGlyphs" >108,000.00</text>
<text x="1531.8" y="213.51" fill="#131722" textLength="51" lengthAdjust="spacingAndGlyphs" >103,000.00</text>
<text x="1531.8" y="242.8" fill="#131722" textLength="45.6" lengthAdjust="spacingAndGlyphs" >99,000.00</text>
<text x="1531.8" y="273.31" fill="#131722" textLength="45.6" lengthAdjust="spacingAndGlyphs" >95,000.00</text>
<text x="1531.8" y="305.12" fill="#131722" textLength="45.6" lengthAdjust="spacingAndGlyphs" >91,000.00</text>
<text x="1531.8" y="338.37" fill="#131722" textLength="45.6" lengthAdjust="spacingAndGlyphs" >87,000.00</text>
<text x="1531.8" y="373.18" fill="#131722" textLength="45.6" lengthAdjust="spacingAndGlyphs" >83,000.00</text>
<text x="1531.8" y="400.41" fill="#131722" textLength="45.6" lengthAdjust="spacingAndGlyphs" >80,000.00</text>
<text x="1531.8" y="428.68" fill="#131722" textLength="45.6" lengthAdjust="spacingAndGlyphs" >77,000.00</text>
<text x="1531.8" y="456.07" fill="#131722" textLength="45.6" lengthAdjust="spacingAndGlyphs" >74,200.00</text>
<text x="1531.8" y="482.45" fill="#131722" textLength="45.6" lengthAdjust="spacingAndGlyphs" >71,600.00</text>
<text x="1531.5" y="509.5" fill="#131722" textLength="25.6" lengthAdjust="spacingAndGlyphs" >80.00</text>
<text x="1531.5" y="579.94" fill="#131722" textLength="25.6" lengthAdjust="spacingAndGlyphs" >60.00</text>
<text x="1531.5" y="650.38" fill="#131722" textLength="25.6" lengthAdjust="spacingAndGlyphs" >40.00</text>
<text x="1531.5" y="685.6" fill="#131722" textLength="25.6" lengthAdjust="spacingAndGlyphs" >30.00</text>
<text x="1531.5" y="720.82" fill="#131722" textLength="25.6" lengthAdjust="spacingAndGlyphs" >20.00</text>
<text x="1531.5" y="615.16" fill="#131722" textLength="25.6" lengthAdjust="spacingAndGlyphs" >50.00</text>
<rect x="1524.0" y="75.8" width="63.700000000000045" height="27.1" fill="#089981"/>
<text x="1531.8" y="86.2" fill="#fff" font-weight="bold" textLength="51.5" lengthAdjust="spacingAndGlyphs" >122,424.56</text>
<text x="1531.8" y="98.4" fill="#fff" font-weight="bold" textLength="40" lengthAdjust="spacingAndGlyphs" fill-opacity="0.75">14:39:34</text>
<rect x="1524.0" y="186" width="63.700000000000045" height="14" fill="#3cb2e6"/>
<text x="1531.8" y="196.2" fill="#131722" textLength="51" lengthAdjust="spacingAndGlyphs" >105,520.45</text>
<rect x="1524.0" y="474.9" width="39.8" height="13.5" fill="#26a69a"/>
<text x="1531.8" y="485.9" fill="#fff" font-weight="bold" textLength="27" lengthAdjust="spacingAndGlyphs" >1.13K</text>
<rect x="1524.0" y="537.5" width="37.5" height="14.3" fill="#7e57c2"/>
<text x="1531.5" y="548.5" fill="#fff" font-weight="bold" textLength="26" lengthAdjust="spacingAndGlyphs" >69.21</text>
<rect x="1524.0" y="599.3" width="37.5" height="14.5" fill="#fdd835"/>
<text x="1531.5" y="610.3" fill="#131722" textLength="25.6" lengthAdjust="spacingAndGlyphs" >51.54</text>
<rect x="1526.5" y="27" width="61.2" height="22.5" rx="3.5" fill="#fff" stroke="#e9e9ec"/>
<text x="1534.7" y="42.5" fill="#131722" textLength="18" lengthAdjust="spacingAndGlyphs" >USD</text>
<text x="37.77" y="737" fill="#131722" font-size="10.6" text-anchor="middle" stroke="#131722" stroke-width="0.25">Mar</text>
<text x="240.2" y="737" fill="#131722" font-size="10.6" text-anchor="middle" stroke="#131722" stroke-width="0.25">Apr</text>
<text x="436.1" y="737" fill="#131722" font-size="10.6" text-anchor="middle" stroke="#131722" stroke-width="0.25">May</text>
<text x="638.53" y="737" fill="#131722" font-size="10.6" text-anchor="middle" stroke="#131722" stroke-width="0.25">Jun</text>
<text x="834.43" y="737" fill="#131722" font-size="10.6" text-anchor="middle" stroke="#131722" stroke-width="0.25">Jul</text>
<text x="1036.86" y="737" fill="#131722" font-size="10.6" text-anchor="middle" stroke="#131722" stroke-width="0.25">Aug</text>
<text x="1239.29" y="737" fill="#131722" font-size="10.6" text-anchor="middle" stroke="#131722" stroke-width="0.25">Sep</text>
<text x="1435.19" y="737" fill="#131722" font-size="10.6" text-anchor="middle" stroke="#131722" stroke-width="0.25">Oct</text>
<g transform="translate(1454.8,477.2)"><circle r="8.55" fill="#fff" stroke="#9c14ab" stroke-width="1.2"/><path d="M2.6,-4.3 L-3.4,0.25 L3.3,-0.15 L-2.6,4.5" fill="none" stroke="#9c14ab" stroke-width="1.15" stroke-linejoin="miter" stroke-linecap="round"/><path d="M-9.2,-0.9 Q-8.6,2.6 -5.1,3.2 Q-8.6,3.8 -9.2,7.3 Q-9.8,3.8 -13.3,3.2 Q-9.8,2.6 -9.2,-0.9Z" fill="#6c47ff" stroke="#fff" stroke-width="1.8" paint-order="stroke"/></g>
<g transform="translate(1480.7,477)"><clipPath id="fc"><circle r="7"/></clipPath><circle r="9" fill="#fff" stroke="#f23645" stroke-width="1.35"/><g clip-path="url(#fc)"><rect x="-7" y="-7" width="14" height="14" fill="#fff"/><rect x="-7" y="-7" width="14" height="2.3" fill="#ef3e36"/><rect x="-7" y="-1.3" width="14" height="2.05" fill="#ef3e36"/><rect x="-7" y="3.6" width="14" height="3.4" fill="#ef3e36"/><rect x="-7" y="-7" width="8.5" height="7.75" fill="#3b8de8"/><path d="M-6,-4.6H1 M-6.4,-2.7H1 M-6,-0.8H1" stroke="#fff" stroke-width="0.6" stroke-dasharray="0.8 0.7" opacity="0.85"/></g></g>
<path d="M10.5,765 H20.6 V777.75 H15.6 V769.75 H10.5 Z" fill="#0c0c0e"/><circle cx="25" cy="767.4" r="2.55" fill="#0c0c0e"/><path d="M30.6,765 H36 L31.25,777.75 H25.6 Z" fill="#0c0c0e"/>
<text x="43" y="777.5" fill="#0c0c0e" font-size="17.4" font-weight="bold" textLength="105" lengthAdjust="spacingAndGlyphs" >TradingView</text>
</svg>
</body></html>
